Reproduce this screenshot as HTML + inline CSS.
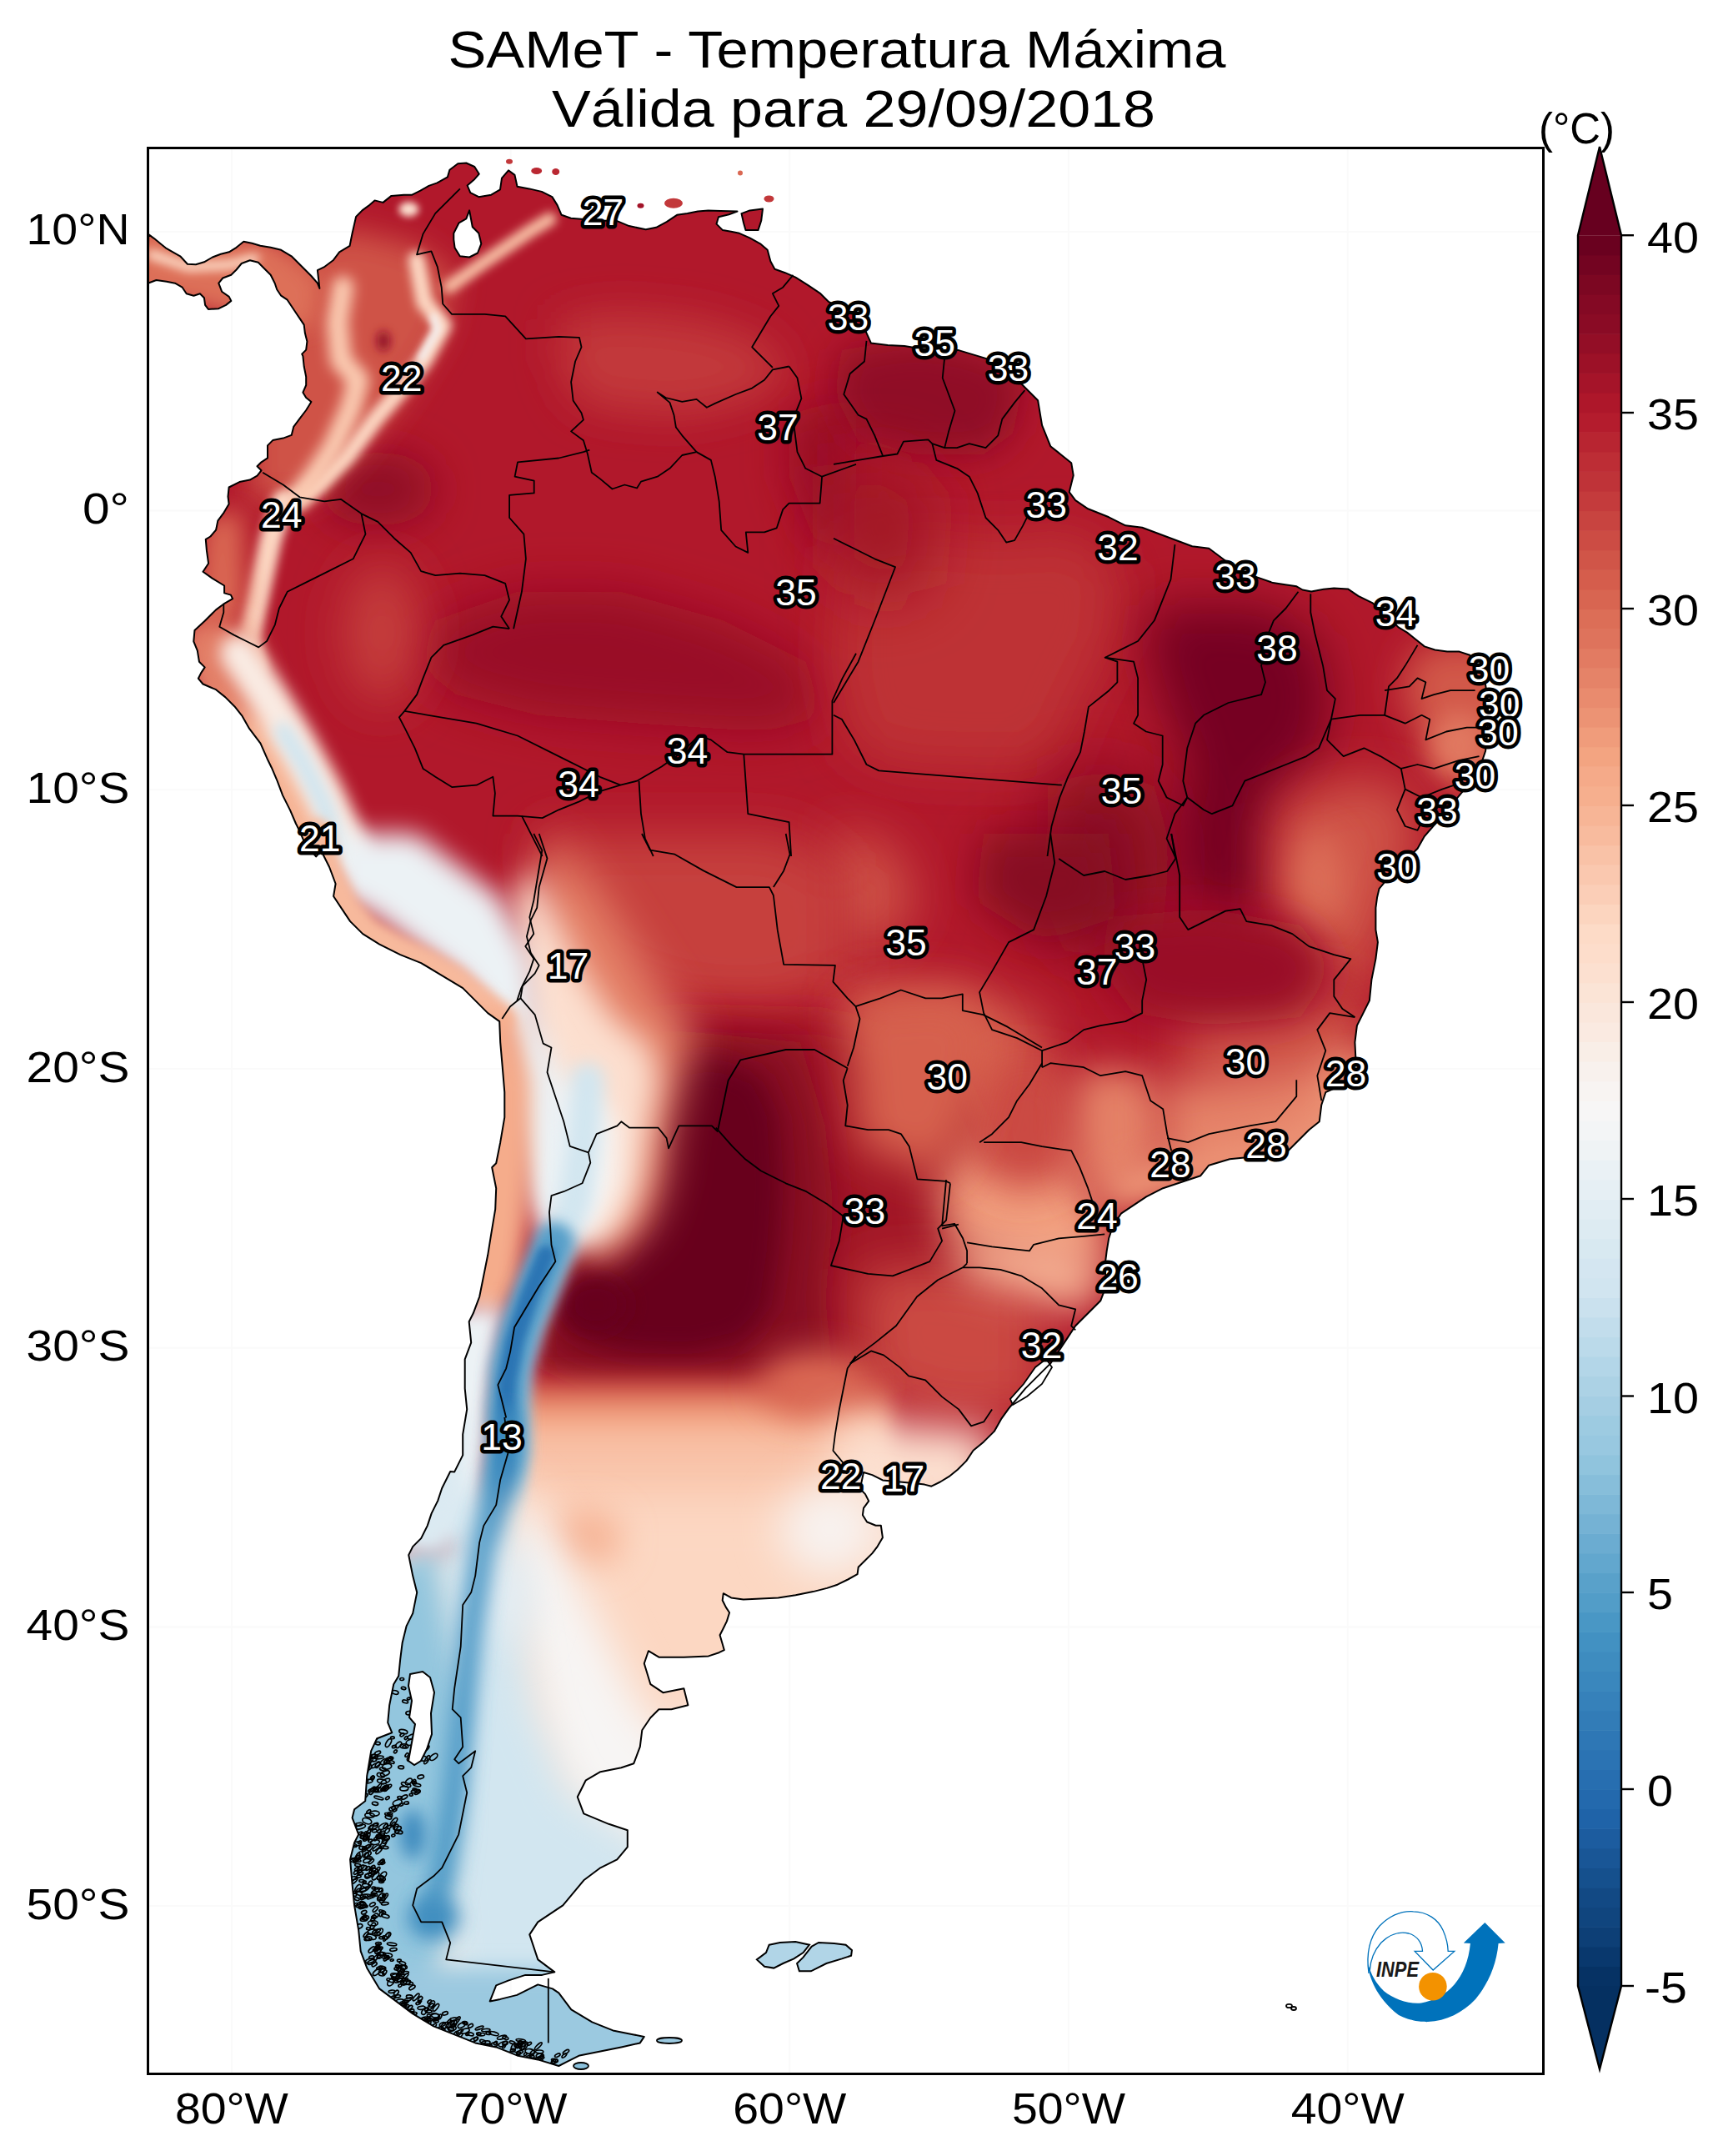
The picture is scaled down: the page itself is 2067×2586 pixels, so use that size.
<!DOCTYPE html><html><head><meta charset="utf-8"><style>html,body{margin:0;padding:0;background:#fff}svg{display:block}text{font-family:"Liberation Sans",sans-serif}</style></head><body>
<svg xmlns="http://www.w3.org/2000/svg" width="2067" height="2586" viewBox="0 0 2067 2586">
<rect width="2067" height="2586" fill="#fff"/>
<text x="1004" y="81" font-size="62.5" text-anchor="middle" textLength="933" lengthAdjust="spacingAndGlyphs">SAMeT - Temperatura Máxima</text>
<text x="1024" y="152" font-size="62.5" text-anchor="middle" textLength="724" lengthAdjust="spacingAndGlyphs">Válida para 29/09/2018</text>
<defs>
<clipPath id="land"><path d="M178.2,281.1 L185,286.1 L192.5,292.3 L198.7,297.3 L207.4,302.3 L216.2,307.3 L224.9,316.8 L234.9,317.3 L244.9,314.3 L254.9,308.5 L264.8,304.8 L274.8,302.3 L283.6,296.8 L292.3,289.8 L302.3,291.8 L312.3,294.8 L324.7,296.8 L337.2,299.8 L349.7,307.3 L359.7,317.3 L367.2,324.7 L373.4,331 L380.9,339.7 L383.4,346 L382.1,334.7 L380.9,324.2 L389.6,319.8 L399.6,312.3 L407.1,302.3 L419.6,294.8 L422.6,279.8 L427.1,259.9 L434.5,252.4 L442,246.9 L449.5,240.4 L459.5,242.9 L469.5,234.9 L484.5,233.7 L494.4,233.7 L504.4,228.7 L514.4,222.9 L524.4,219.4 L536.9,212.4 L539.4,203.7 L549.3,196.2 L559.3,195.5 L569.3,200 L574.8,208.7 L569.3,214.9 L560.6,222.4 L564.3,231.2 L574.3,236.2 L589.3,233.7 L600,227.4 L602,213.7 L610,204.4 L617.5,209.9 L620.5,223.7 L634.9,226.4 L649.9,229.9 L662.4,236.1 L668.6,246.1 L673.6,257.8 L684.9,261.8 L697.3,262.8 L717.3,264.8 L739.8,264.8 L754.7,271.1 L774.7,275.3 L787.2,272.8 L799.7,266.1 L812.1,257.8 L824.6,256.1 L837.1,253.6 L849.6,252.4 L864.5,253.1 L884.5,253.6 L874.5,257.3 L862,260.3 L859.5,268.6 L867,276.1 L877,277.8 L887,279.8 L899.5,285.3 L912,292.3 L920.7,299.8 L924.4,313.5 L929.4,322.7 L941.9,327.2 L954.4,332.7 L969.4,342.2 L984.3,352.2 L994.3,362.2 L1011.8,369.7 L1030,378.4 L1045,411.6 L1065,414.1 L1085,415.1 L1100.1,417.6 L1125.1,420.1 L1150.1,420.1 L1175.1,427.6 L1200.1,435.2 L1220.1,455.2 L1230.1,465.2 L1245.1,480.2 L1250.1,510.2 L1260.2,535.2 L1272.7,545.2 L1285.2,555.2 L1287.7,570.2 L1282.7,590.2 L1290.2,600.2 L1305.2,610.3 L1330.2,620.3 L1350.2,630.3 L1370.2,632.8 L1390.2,640.3 L1410.2,647.8 L1430.2,655.3 L1450.3,657.8 L1460.3,665.3 L1480.3,680.3 L1500,689.7 L1512.5,693.9 L1527.2,699.1 L1541.8,701.2 L1555.4,703.3 L1562.7,707.5 L1573.1,709.5 L1587.8,706.8 L1600.3,705.4 L1617,706.4 L1629.5,714.8 L1646.3,723.1 L1663,737.8 L1677.6,752.4 L1688,758.6 L1698.5,767 L1708.9,775.4 L1721.5,779.5 L1736.1,781.6 L1750.7,781.6 L1763.3,785.8 L1775.8,804.6 L1782.1,821.3 L1784.6,838 L1785.2,858.9 L1784.2,879.8 L1782.1,900.7 L1777.9,913.3 L1769.5,930 L1757,946.7 L1746.5,959.2 L1734,973.9 L1721.5,988.5 L1708.9,1003.1 L1700.6,1017.7 L1694.3,1024 L1679.7,1038.6 L1665.1,1053.3 L1654.6,1065.8 L1652.1,1076.2 L1650.4,1088.8 L1650.4,1115.1 L1652.9,1130.1 L1650.4,1150.1 L1645.4,1175.1 L1642.9,1200.1 L1635.4,1215.1 L1627.9,1230.1 L1625.4,1250.1 L1626.4,1270.2 L1612.9,1300.2 L1590.3,1310.2 L1585.3,1325.2 L1582.8,1345.2 L1570.3,1355.2 L1555.3,1370.2 L1545.3,1380.2 L1525.3,1385.2 L1500.3,1387.7 L1475.3,1390.2 L1450.3,1397.7 L1440.3,1410.2 L1425.2,1415.2 L1410.2,1420.2 L1395.2,1425.2 L1375.2,1435.3 L1360.2,1445.3 L1345.2,1455.3 L1335.2,1470.3 L1330.2,1485.3 L1327.7,1500.3 L1325.2,1520.3 L1327.7,1540.3 L1320.2,1560.3 L1305.2,1575.3 L1290.2,1590.3 L1280.2,1605.4 L1270.2,1620.4 L1260.2,1635.4 L1245.1,1650.4 L1230.1,1665.4 L1210,1689.7 L1201,1702.2 L1192.7,1716.9 L1180.1,1729.4 L1167.6,1739.8 L1159.2,1752.4 L1148.8,1762.8 L1138.3,1771.2 L1127.9,1777.5 L1117.4,1782.7 L1109.1,1780.6 L1100.7,1779.5 L1079.8,1777.5 L1058.9,1775.4 L1046.4,1769.1 L1036,1766 L1031.8,1785.8 L1038,1792.1 L1042.2,1800.4 L1036,1808.8 L1034.9,1817.2 L1040.1,1825.5 L1050.6,1829.7 L1056.8,1829.7 L1058.9,1844.3 L1052.7,1854.8 L1046.4,1863.1 L1038,1871.5 L1029.7,1879.8 L1028.6,1888.2 L1017.2,1894.5 L1004.6,1900.7 L992.1,1904.9 L975.4,1909.1 L954.5,1913.3 L933.6,1916.4 L912.7,1917.4 L891.8,1918.5 L877.2,1916.4 L867.8,1911.2 L866.7,1919.5 L870.9,1927.9 L875.1,1934.2 L871.9,1944.6 L867.8,1953 L863.6,1961.3 L866.7,1971.8 L868.8,1979.1 L862.5,1982.2 L850,1986.4 L820.4,1987.7 L790.4,1987.7 L777.9,1980.2 L772.8,1995.2 L780.4,2020.2 L795.4,2030.2 L820.4,2025.2 L825.4,2045.2 L805.4,2050.2 L790.4,2050.2 L780.4,2060.2 L770.3,2075.2 L767.8,2095.2 L760.3,2115.2 L745.3,2120.2 L720.3,2125.2 L702.8,2135.3 L692.8,2155.3 L700.3,2175.3 L730.3,2187.8 L752.8,2195.3 L752.8,2215.3 L740.3,2230.3 L720.3,2240.3 L700.3,2255.3 L687.8,2270.3 L675.3,2285.3 L660.3,2295.3 L645.3,2305.4 L635.3,2320.4 L640.3,2335.4 L645.3,2350.4 L665.3,2365.4 L650.3,2368.9 L630.3,2368.9 L610.3,2375.4 L595.2,2381.4 L587.7,2400.4 L600.2,2397.9 L620.3,2392.9 L645.3,2380.4 L662.8,2385.4 L670.3,2390.4 L685.3,2410.4 L710.3,2425.4 L735.3,2435.4 L760.3,2440.4 L772.8,2442.9 L767.8,2450.4 L745.3,2455.4 L720.3,2460.4 L695.3,2465.4 L680.3,2472.9 L670.3,2478 L645.3,2470.4 L620.3,2465.4 L595.2,2455.4 L570.2,2450.4 L545.2,2440.4 L520.2,2430.4 L495.2,2415.4 L475.2,2400.4 L455.2,2385.4 L440.2,2360.4 L432.7,2340.4 L430.2,2315.4 L425.1,2285.3 L422.6,2260.3 L420.1,2230.3 L425.1,2210.3 L430.2,2200.3 L422.6,2180.3 L425.1,2170.3 L438.2,2160.3 L440.2,2130.2 L445.2,2100.2 L452.2,2085.2 L470.2,2078.2 L465.2,2066.2 L467.2,2045.2 L472.2,2020.2 L478.2,2010.2 L480.2,1990.2 L482.7,1970.2 L487.7,1950.1 L495.2,1935.1 L500.2,1910.1 L495.2,1890.1 L490.2,1865.1 L495.2,1855.1 L505.2,1845.1 L512.7,1830.1 L517.7,1815.1 L525.2,1800.1 L530.2,1785 L540.2,1765 L545.2,1765.4 L555.2,1745.4 L555.2,1720.4 L560.2,1690.4 L557.7,1665.4 L557.7,1630.4 L565.2,1610.4 L562.7,1585.3 L567.7,1575.3 L575.2,1555.3 L580.2,1530.3 L585.2,1505.3 L589.2,1480.3 L594.2,1450.3 L595.2,1425.2 L590.2,1400.2 L595.2,1395.2 L600.2,1370.2 L605.3,1340.2 L605.3,1310.2 L602.8,1280.2 L600.2,1250.1 L599.2,1225.1 L585.2,1215.1 L570.2,1200.1 L555.2,1185.1 L530.2,1170.1 L505.2,1155.1 L480.2,1145.1 L455.2,1132.6 L435.2,1120.1 L420.1,1105.1 L410.1,1090.1 L400.1,1075 L402.6,1060 L395.1,1040 L385.1,1020 L379.3,1027.5 L365.9,1011.9 L359.2,996.4 L354.8,987.5 L348.1,971.9 L339.2,954.1 L332.5,936.3 L325.8,920.7 L321.4,911.8 L312.5,891.7 L299.1,873.9 L290.2,858.3 L281.3,847.2 L270.2,836.1 L259.1,827.2 L243.5,820.5 L237.9,813.8 L241.2,807.1 L245.7,800.4 L239,793.8 L236.8,780.4 L232.3,769.3 L233.5,755.9 L245.7,744.8 L259.1,731.4 L268,724.7 L279.1,718.1 L276.9,713.6 L269.1,711.4 L269.1,702.5 L254.6,693.6 L243.5,685.8 L250.1,675.8 L247.9,660.2 L246.8,646.8 L252.4,643.5 L259.1,635.7 L261.3,624.6 L268,615.7 L274.6,604.5 L273.5,595.6 L274.6,584.5 L287.3,578.1 L299.8,575.6 L308.5,570.6 L313.5,564.3 L308.5,559.3 L313.5,554.3 L321,549.4 L321,534.4 L327.2,528.1 L339.7,525.6 L349.7,521.9 L352.2,511.9 L359.7,501.9 L367.2,492 L373.4,482 L367.2,477 L363.4,470.7 L367.2,462 L367.2,452 L364.7,439.5 L363.4,427.1 L362.2,424.6 L367.2,419.6 L368.4,409.6 L365.9,399.6 L364.7,389.6 L359.7,382.1 L354.7,374.7 L349.7,367.2 L344.7,359.7 L337.2,354.7 L332.2,347.2 L329.7,339.7 L324.7,329.7 L317.2,322.3 L309.8,314.8 L299.8,312.3 L289.8,316 L283.6,323.5 L277.3,329.7 L267.3,333.5 L262.3,339.7 L266.1,349.7 L274.8,355.9 L277.3,360.9 L271.1,365.9 L262.3,370.2 L249.9,370.9 L246.1,365.9 L244.9,357.2 L239.9,352.2 L232.4,354.7 L223.7,352.2 L218.7,344.7 L209.9,339.7 L199.9,337.7 L187.5,336 L177.5,339.7 Z M889.5,256.1 L899.5,252.4 L915,250.4 L913.2,264.8 L909.5,276.1 L894.5,276.1 L892,267.3 Z" clip-rule="evenodd"/></clipPath>
<filter id="g4" filterUnits="userSpaceOnUse" x="0" y="0" width="2067" height="2586"><feGaussianBlur stdDeviation="4"/></filter>
<filter id="g5" filterUnits="userSpaceOnUse" x="0" y="0" width="2067" height="2586"><feGaussianBlur stdDeviation="5"/></filter>
<filter id="g6" filterUnits="userSpaceOnUse" x="0" y="0" width="2067" height="2586"><feGaussianBlur stdDeviation="6"/></filter>
<filter id="g8" filterUnits="userSpaceOnUse" x="0" y="0" width="2067" height="2586"><feGaussianBlur stdDeviation="8"/></filter>
<filter id="g10" filterUnits="userSpaceOnUse" x="0" y="0" width="2067" height="2586"><feGaussianBlur stdDeviation="10"/></filter>
<filter id="g12" filterUnits="userSpaceOnUse" x="0" y="0" width="2067" height="2586"><feGaussianBlur stdDeviation="12"/></filter>
<filter id="g15" filterUnits="userSpaceOnUse" x="0" y="0" width="2067" height="2586"><feGaussianBlur stdDeviation="15"/></filter>
<filter id="g16" filterUnits="userSpaceOnUse" x="0" y="0" width="2067" height="2586"><feGaussianBlur stdDeviation="16"/></filter>
<filter id="g18" filterUnits="userSpaceOnUse" x="0" y="0" width="2067" height="2586"><feGaussianBlur stdDeviation="18"/></filter>
<filter id="g20" filterUnits="userSpaceOnUse" x="0" y="0" width="2067" height="2586"><feGaussianBlur stdDeviation="20"/></filter>
<filter id="g22" filterUnits="userSpaceOnUse" x="0" y="0" width="2067" height="2586"><feGaussianBlur stdDeviation="22"/></filter>
<filter id="g25" filterUnits="userSpaceOnUse" x="0" y="0" width="2067" height="2586"><feGaussianBlur stdDeviation="25"/></filter>
<filter id="g30" filterUnits="userSpaceOnUse" x="0" y="0" width="2067" height="2586"><feGaussianBlur stdDeviation="30"/></filter>
<filter id="g38" filterUnits="userSpaceOnUse" x="0" y="0" width="2067" height="2586"><feGaussianBlur stdDeviation="38"/></filter>
<filter id="g40" filterUnits="userSpaceOnUse" x="0" y="0" width="2067" height="2586"><feGaussianBlur stdDeviation="40"/></filter>
</defs>
<line x1="277.9" y1="177.5" x2="277.9" y2="2487" stroke="#fafafa" stroke-width="2"/>
<line x1="612.6" y1="177.5" x2="612.6" y2="2487" stroke="#fafafa" stroke-width="2"/>
<line x1="947.3" y1="177.5" x2="947.3" y2="2487" stroke="#fafafa" stroke-width="2"/>
<line x1="1282.0" y1="177.5" x2="1282.0" y2="2487" stroke="#fafafa" stroke-width="2"/>
<line x1="1616.7" y1="177.5" x2="1616.7" y2="2487" stroke="#fafafa" stroke-width="2"/>
<line x1="177.5" y1="277.9" x2="1851" y2="277.9" stroke="#fafafa" stroke-width="2"/>
<line x1="177.5" y1="612.6" x2="1851" y2="612.6" stroke="#fafafa" stroke-width="2"/>
<line x1="177.5" y1="947.3" x2="1851" y2="947.3" stroke="#fafafa" stroke-width="2"/>
<line x1="177.5" y1="1282.0" x2="1851" y2="1282.0" stroke="#fafafa" stroke-width="2"/>
<line x1="177.5" y1="1616.7" x2="1851" y2="1616.7" stroke="#fafafa" stroke-width="2"/>
<line x1="177.5" y1="1951.4" x2="1851" y2="1951.4" stroke="#fafafa" stroke-width="2"/>
<line x1="177.5" y1="2286.1" x2="1851" y2="2286.1" stroke="#fafafa" stroke-width="2"/>
<g clip-path="url(#land)">
<rect x="177.5" y="177.5" width="1673.5" height="2309.5" fill="#b1182b"/>
<path d="M522.3,744.3 L621,709.8 L744.3,709.8 L867.7,744.3 L966.3,793.7 L991,857.8 L917,877.5 L769,867.7 L645.7,857.8 L547,833.1 L497.7,793.7 Z" fill="#991027" filter="url(#g30)"/>
<ellipse cx="453.3" cy="586.5" rx="69.1" ry="44.4" fill="#900d26" transform="rotate(0 453.3 586.5)" filter="url(#g25)"/>
<path d="M946.6,497.7 L1027,473 L1027,670.3 L976.2,645.7 L946.6,571.7 Z" fill="#991027" filter="url(#g25)"/>
<path d="M670.3,384.2 L744.3,374.3 L843,384.2 L917,408.9 L946.6,453.3 L892.3,482.9 L818.3,497.7 L744.3,492.7 L695,482.9 L670.3,433.5 Z" fill="#c2383a" filter="url(#g25)"/>
<path d="M330,300 L420,275 L500,295 L545,330 L530,400 L480,480 L430,540 L370,600 L300,600 L300,400 Z" fill="#cf5246" filter="url(#g18)"/>
<path d="M499.7,311.4 L509,362.5 L532,390.4 L509,432.2 L481,467 L451,501.8 L416,548.2 L381,583 L358,600" fill="none" stroke="#fcd7c2" stroke-width="20.0" stroke-linecap="round" stroke-linejoin="round" filter="url(#g6)"/>
<path d="M411.4,344 L404.5,385.7 L409,432.2 L430,455.4 L420.7,490.2 L399.8,536.6 L376.6,571.4 L353.4,600" fill="none" stroke="#facab1" stroke-width="26.0" stroke-linecap="round" stroke-linejoin="round" filter="url(#g8)"/>
<path d="M539,344 L578.6,316 L636.6,276.6 L659.8,262.7" fill="none" stroke="#f8bfa4" stroke-width="16.0" stroke-linecap="round" stroke-linejoin="round" filter="url(#g6)"/>
<path d="M520,380 L525,395 L505,430" fill="none" stroke="#f5f6f7" stroke-width="8.0" stroke-linecap="round" stroke-linejoin="round" filter="url(#g4)"/>
<ellipse cx="490.4" cy="251" rx="12.0" ry="9.0" fill="#fcdfcf" transform="rotate(0 490.4 251)" filter="url(#g4)"/>
<ellipse cx="460" cy="409" rx="8.0" ry="12.0" fill="#900d26" transform="rotate(0 460 409)" filter="url(#g6)"/>
<ellipse cx="458.2" cy="759.1" rx="44.4" ry="83.9" fill="#c6413e" transform="rotate(0 458.2 759.1)" filter="url(#g30)"/>
<path d="M152.3,265.8 L251,275.7 L325,285.5 L384.2,339.8 L374.3,394.1 L300.3,384.2 L226.3,364.5 L152.3,354.6 Z" fill="#dd7059" filter="url(#g12)"/>
<path d="M181.9,305.3 L226.3,320.1 L275.7,317.6 L305.3,310.2" fill="none" stroke="#fcd7c2" stroke-width="12.3" stroke-linecap="round" stroke-linejoin="round" filter="url(#g6)"/>
<path d="M339.8,601.3 L325,645.7 L315.1,690.1 L305.3,734.5 L297.9,769 L305.3,798.6" fill="none" stroke="#fcd7c2" stroke-width="27.1" stroke-linecap="round" stroke-linejoin="round" filter="url(#g6)"/>
<path d="M246.1,621 L290.5,611.1 L295.4,719.7 L275.7,759.1 L231.3,759.1 Z" fill="#da6853" filter="url(#g15)"/>
<path d="M226.3,759.1 L290.5,769 L325,818.3 L364.5,877.5 L403.9,946.6 L433.5,1027 L339.8,1027 L300.3,917 L251,843 Z" fill="#f6b394" filter="url(#g12)"/>
<path d="M221.4,744.3 L295.4,754.2 L315.1,798.6 L325,857.8 L275.7,857.8 L236.2,818.3 Z" fill="#e17860" filter="url(#g15)"/>
<path d="M285.5,783.8 L325,843 L354.6,892.3 L384.2,946.6 L408.9,995.9 L423.7,1027" fill="none" stroke="#f9ebe3" stroke-width="44.4" stroke-linecap="round" stroke-linejoin="round" filter="url(#g10)"/>
<path d="M339.8,877.5 L364.5,917 L389.1,966.3 L408.9,1027" fill="none" stroke="#d2e6f0" stroke-width="22.2" stroke-linecap="round" stroke-linejoin="round" filter="url(#g8)"/>
<path d="M1009.9,657.2 L1098.7,637.5 L1197.3,647.3 L1296,637.5 L1345.3,686.8 L1335.5,770.7 L1296,844.7 L1266.4,918.7 L1197.3,923.6 L1074,918.7 L1019.7,894 L1000,795.3 Z" fill="#be3036" filter="url(#g30)"/>
<path d="M1384.8,726.3 L1444,726.3 L1518,726.3 L1582.1,765.7 L1596.9,844.7 L1582.1,903.9 L1532.8,943.3 L1513.1,1017.3 L1522.9,1091.3 L1468.7,1106.1 L1409.5,1066.7 L1404.5,992.7 L1424.3,918.7 L1394.7,844.7 L1374.9,770.7 Z" fill="#760521" filter="url(#g30)"/>
<path d="M1256.5,943.3 L1320.7,918.7 L1384.8,943.3 L1404.5,1017.3 L1394.7,1116 L1345.3,1150.5 L1276.3,1140.7 L1246.7,1066.7 L1256.5,992.7 Z" fill="#870a24" filter="url(#g40)"/>
<path d="M1700.5,775.6 L1764.7,770.7 L1850,775.6 L1850,968 L1789.3,968 L1730.1,923.6 L1700.5,874.3 L1680.8,824.9 Z" fill="#d25849" filter="url(#g22)"/>
<ellipse cx="1749.9" cy="894.0" rx="34.5" ry="39.5" fill="#e17860" transform="rotate(0 1749.9 894.0)" filter="url(#g15)"/>
<path d="M1532.8,968 L1616.7,933.5 L1690.7,943.3 L1700.5,1017.3 L1661.1,1116 L1641.3,1190 L1567.3,1165.3 L1532.8,1091.3 Z" fill="#cf5246" filter="url(#g30)"/>
<ellipse cx="1582.1" cy="1056.8" rx="29.6" ry="59.2" fill="#dd7059" transform="rotate(0 1582.1 1056.8)" filter="url(#g20)"/>
<path d="M1000,992.7 L1074,1017.3 L1098.7,1091.3 L1049.3,1140.7 L1000,1116 Z" fill="#cf5246" filter="url(#g30)"/>
<path d="M1419.3,1190 L1518,1190 L1616.7,1180.1 L1641.3,1300 L1419.3,1300 Z" fill="#cf5246" filter="url(#g30)"/>
<path d="M646.7,1000 L770,1000 L942.7,1000 L1016.7,1049.3 L1016.7,1172.7 L942.7,1207.2 L844,1207.2 L770,1187.5 L696,1148 L656.5,1074 Z" fill="#c6413e" filter="url(#g30)"/>
<path d="M1016.7,1187.5 L1140,1187.5 L1250,1222 L1250,1370 L1140,1419.3 L1041.3,1394.7 L1016.7,1296 Z" fill="#d6604d" filter="url(#g30)"/>
<path d="M660,1250 L800,1220 L1000,1225 L1100,1260 L1150,1300 L1200,1400 L1220,1500 L1150,1620 L1050,1665 L900,1672 L700,1672 L640,1645 L630,1580 L660,1500 L700,1400 Z" fill="#a21328" filter="url(#g25)"/>
<path d="M700,1250 L800,1235 L960,1250 L990,1350 L1000,1450 L990,1560 L1000,1650 L900,1668 L700,1668 L645,1640 L640,1580 L670,1500 L710,1400 Z" fill="#870a24" filter="url(#g22)"/>
<path d="M790,1280 L860,1268 L915,1290 L935,1340 L940,1420 L935,1500 L925,1570 L895,1610 L830,1625 L750,1622 L695,1605 L665,1575 L690,1540 L745,1515 L775,1465 L785,1400 Z" fill="#67001f" filter="url(#g16)"/>
<path d="M656.5,1000 L720.7,1074 L794.7,1187.5 L834.1,1231.9 L819.3,1296 L804.5,1345.3 L794.7,1419.3 L774.9,1473.6 L745.3,1493.3 L720.7,1518 L696,1493.3 L676.3,1444 L646.7,1296 L636.8,1148 Z" fill="#e48066" filter="url(#g25)"/>
<path d="M636.8,1039.5 L666.4,1098.7 L696,1162.8 L735.5,1222 L779.9,1256.5 L789.7,1296 L779.9,1345.3 L770,1419.3 L750.3,1468.7 L715.7,1498.3 L676.3,1483.5 L656.5,1394.7 L636.8,1296 L626.9,1172.7 L617.1,1074 Z" fill="#fcdfcf" filter="url(#g18)"/>
<path d="M656.5,1296 L705.9,1305.9 L740.4,1345.3 L740.4,1419.3 L715.7,1473.6 L686.1,1493.3 L661.5,1444 Z" fill="#f7f5f4" filter="url(#g15)"/>
<path d="M400,1000 L498.7,1000 L597.3,1074 L636.8,1148 L646.7,1222 L676.3,1296 L696,1370 L705.9,1419.3 L676.3,1468.7 L656.5,1493.3 L631.9,1444 L612.1,1345.3 L607.2,1246.7 L548,1172.7 L449.3,1098.7 L400,1074 Z" fill="#ecf2f5" filter="url(#g15)"/>
<path d="M380,1000 L395,1050 L415,1090 L440,1118 L475,1138 L510,1155 L545,1175 L575,1200 L600,1222" fill="none" stroke="#f7b99c" stroke-width="36.0" stroke-linecap="round" stroke-linejoin="round" filter="url(#g6)"/>
<path d="M548,1207.2 L617.1,1217.1 L636.8,1296 L636.8,1394.7 L631.9,1468.7 L622,1542.7 L597.3,1582.1 L548,1567.3 L548,1345.3 Z" fill="#f5ac8b" filter="url(#g12)"/>
<path d="M474,1567.3 L607.2,1567.3 L597.3,1641.3 L587.5,1740 L577.6,1850 L474,1850 Z" fill="#ecf2f5" filter="url(#g12)"/>
<ellipse cx="715.0" cy="1565.0" rx="38.0" ry="32.0" fill="#67001f" transform="rotate(0 715.0 1565.0)" filter="url(#g12)"/>
<defs><linearGradient id="vg44714" gradientUnits="userSpaceOnUse" x1="0" y1="1640" x2="0" y2="1990"><stop offset="0.0000" stop-color="#c2383a" stop-opacity="0"/><stop offset="0.0714" stop-color="#d25849" stop-opacity="1"/><stop offset="0.1286" stop-color="#e8896c" stop-opacity="1"/><stop offset="0.1857" stop-color="#f5ac8b" stop-opacity="1"/><stop offset="0.2571" stop-color="#f8bfa4" stop-opacity="1"/><stop offset="0.4571" stop-color="#facab1" stop-opacity="1"/><stop offset="0.6571" stop-color="#fbd0b9" stop-opacity="1"/><stop offset="0.9143" stop-color="#fcd7c2" stop-opacity="1"/><stop offset="1.0000" stop-color="#fcd7c2" stop-opacity="0"/></linearGradient></defs>
<rect x="600" y="1640" width="470" height="350" fill="url(#vg44714)" filter="url(#g12)"/>
<ellipse cx="1050.0" cy="1860.0" rx="60.0" ry="50.0" fill="#f9ebe3" transform="rotate(0 1050.0 1860.0)" filter="url(#g20)"/>
<path d="M705,1295 L700,1370 L690,1440 L670,1490 L650,1540 L630,1590 L615,1640 L612,1690 L612,1740 L605,1790 L595,1850" fill="none" stroke="#d2e6f0" stroke-width="40.0" stroke-linecap="round" stroke-linejoin="round" filter="url(#g10)"/>
<path d="M665,1490 L645,1540 L625,1590 L612,1640 L608,1690 L610,1740 L602,1790 L590,1850" fill="none" stroke="#569fc9" stroke-width="48.0" stroke-linecap="round" stroke-linejoin="round" filter="url(#g8)"/>
<path d="M655,1505 L635,1555 L617,1610 L608,1660 L607,1710 L605,1760 L596,1810 L585,1850" fill="none" stroke="#2c75b4" stroke-width="22.0" stroke-linecap="round" stroke-linejoin="round" filter="url(#g5)"/>
<path d="M1031.5,1522.9 L1140,1518 L1250,1542.7 L1250,1690.7 L1140,1700.5 L1041.3,1666 Z" fill="#cb4942" filter="url(#g30)"/>
<ellipse cx="980.0" cy="1660.0" rx="70.0" ry="40.0" fill="#da6853" transform="rotate(0 980.0 1660.0)" filter="url(#g20)"/>
<path d="M1001.9,1700.5 L1115.3,1710.4 L1189.3,1715.3 L1189.3,1814 L1041.3,1838.7 L992,1814 Z" fill="#fcdfcf" filter="url(#g25)"/>
<path d="M1140.1,1370.2 L1280.2,1380.2 L1310.2,1430.2 L1330.2,1470.3 L1320.2,1525.3 L1250.1,1520.3 L1150.1,1495.3 L1125.1,1450.3 Z" fill="#f19e7d" filter="url(#g25)"/>
<path d="M1150.1,1490.3 L1280.2,1490.3 L1330.2,1525.3 L1300.2,1575.3 L1225.1,1550.3 L1155.1,1530.3 Z" fill="#f6b394" filter="url(#g25)"/>
<path d="M1190.1,1270.2 L1280.2,1275.2 L1290.2,1400.2 L1230.1,1430.2 L1165.1,1400.2 L1175.1,1325.2 Z" fill="#cb4942" filter="url(#g25)"/>
<path d="M1300.2,1280.2 L1375.2,1285.2 L1400.2,1350.2 L1380.2,1410.2 L1320.2,1440.3 L1290.2,1400.2 L1285.2,1325.2 Z" fill="#e48066" filter="url(#g22)"/>
<path d="M1390.2,1300.2 L1550.3,1280.2 L1625.4,1250.1 L1650.4,1300.2 L1575.3,1375.2 L1450.3,1410.2 L1390.2,1390.2 Z" fill="#e48066" filter="url(#g25)"/>
<path d="M1015,1200.1 L1150.1,1190.1 L1190.1,1225.1 L1165.1,1350.2 L1125.1,1410.2 L1030,1375.2 Z" fill="#d6604d" filter="url(#g25)"/>
<path d="M150,1860 L1900,1860 L1900,2600 L150,2600 Z" fill="#f9ebe3" filter="url(#g15)"/>
<path d="M595.2,1800.1 L1070.5,1800.1 L1070.5,2050.2 L820.4,2050.2 L795.4,2150.3 L670.3,2150.3 L610.3,1950.1 Z" fill="#fcd7c2" filter="url(#g25)"/>
<ellipse cx="700.3" cy="1845.1" rx="45.0" ry="35.0" fill="#f6b394" transform="rotate(0 700.3 1845.1)" filter="url(#g20)"/>
<ellipse cx="995.5" cy="1835.1" rx="60.0" ry="55.0" fill="#f8f2ef" transform="rotate(0 995.5 1835.1)" filter="url(#g25)"/>
<path d="M620.3,1775 L670.3,1850.1 L720.3,1950.1 L770.3,2050.2 L820.4,2100.2 L820.4,2200.3 L720.3,2200.3 L660.3,2125.2 L635.3,2000.2 L610.3,1875.1 Z" fill="#f7f5f4" filter="url(#g25)"/>
<path d="M530.2,1775 L595.2,1800.1 L620.3,1925.1 L640.3,2050.2 L680.3,2150.3 L795.4,2225.3 L795.4,2400.4 L545.2,2400.4 L520.2,2150.3 Z" fill="#d2e6f0" filter="url(#g22)"/>
<ellipse cx="610.3" cy="1910.1" rx="30.0" ry="60.0" fill="#e4eef4" transform="rotate(0 610.3 1910.1)" filter="url(#g25)"/>
<path d="M370.1,1950.1 L520.2,1850.1 L555.2,2050.2 L550.2,2200.3 L530.2,2350.4 L510.2,2425.4 L370.1,2425.4 Z" fill="#93c6de" filter="url(#g15)"/>
<path d="M420.1,1700 L560.2,1700 L550.2,1800.1 L530.2,1860.1 L420.1,1860.1 Z" fill="#dbeaf2" filter="url(#g10)"/>
<path d="M610.3,1700 L600.2,1775 L580.2,1850.1 L565.2,1950.1 L555.2,2050.2 L545.2,2150.3 L530.2,2250.3 L515.2,2300.3" fill="none" stroke="#4393c3" stroke-width="25.0" stroke-linecap="round" stroke-linejoin="round" filter="url(#g12)"/>
<path d="M395.1,2360.4 L670.3,2360.4 L820.4,2425.4 L820.4,2525.5 L395.1,2525.5 Z" fill="#9bc9e0" filter="url(#g12)"/>
<ellipse cx="495.2" cy="2200.3" rx="15.0" ry="30.0" fill="#3c8abe" transform="rotate(0 495.2 2200.3)" filter="url(#g10)"/>
<ellipse cx="520.2" cy="2300.3" rx="30.0" ry="25.0" fill="#3f8ec0" transform="rotate(0 520.2 2300.3)" filter="url(#g12)"/>
<path d="M1010,420 L1100,405 L1180,420 L1230,450 L1215,520 L1180,545 L1100,545 L1030,530 L1000,470 Z" fill="#900d26" filter="url(#g22)"/>
<path d="M1000,560 L1080,550 L1120,600 L1110,700 L1040,720 L1000,680 Z" fill="#a21328" filter="url(#g38)"/>
<path d="M1330,1100 L1450,1090 L1560,1110 L1600,1160 L1560,1220 L1450,1230 L1360,1215 L1320,1160 Z" fill="#991027" filter="url(#g25)"/>
<path d="M1180,1000 L1330,1000 L1340,1100 L1250,1130 L1170,1080 Z" fill="#870a24" filter="url(#g25)"/>
<path d="M1350,1425 L1400,1410 L1450,1395 L1500,1385 L1560,1370 L1600,1335 L1620,1300" fill="none" stroke="#ee9677" stroke-width="50.0" stroke-linecap="round" stroke-linejoin="round" filter="url(#g18)"/>
<g fill="none" stroke="#000" stroke-width="1.7">
<ellipse cx="439.1" cy="2225.2" rx="3.7" ry="2.1" transform="rotate(-50 439.1 2225.2)"/>
<ellipse cx="478.8" cy="2374.4" rx="5.8" ry="2.6" transform="rotate(-28 478.8 2374.4)"/>
<ellipse cx="458.4" cy="2232.7" rx="3.2" ry="1.9" transform="rotate(-46 458.4 2232.7)"/>
<ellipse cx="437.3" cy="2216.6" rx="2.8" ry="1.6" transform="rotate(-26 437.3 2216.6)"/>
<ellipse cx="484.2" cy="2359.7" rx="4.1" ry="2.3" transform="rotate(-2 484.2 2359.7)"/>
<ellipse cx="451.6" cy="2316.2" rx="5.0" ry="1.7" transform="rotate(-21 451.6 2316.2)"/>
<ellipse cx="638.6" cy="2462.6" rx="3.9" ry="2.1" transform="rotate(-55 638.6 2462.6)"/>
<ellipse cx="451.3" cy="2216.4" rx="5.1" ry="1.7" transform="rotate(-40 451.3 2216.4)"/>
<ellipse cx="441.9" cy="2324.9" rx="4.2" ry="2.4" transform="rotate(6 441.9 2324.9)"/>
<ellipse cx="650.0" cy="2466.2" rx="2.6" ry="1.5" transform="rotate(-41 650.0 2466.2)"/>
<ellipse cx="437.1" cy="2218.7" rx="2.8" ry="1.5" transform="rotate(-33 437.1 2218.7)"/>
<ellipse cx="434.6" cy="2200.1" rx="2.6" ry="1.5" transform="rotate(-31 434.6 2200.1)"/>
<ellipse cx="443.2" cy="2228.4" rx="3.4" ry="1.6" transform="rotate(6 443.2 2228.4)"/>
<ellipse cx="462.8" cy="2206.4" rx="5.8" ry="2.5" transform="rotate(-48 462.8 2206.4)"/>
<ellipse cx="428.2" cy="2277.7" rx="3.0" ry="1.7" transform="rotate(17 428.2 2277.7)"/>
<ellipse cx="676.9" cy="2465.5" rx="3.5" ry="1.6" transform="rotate(-42 676.9 2465.5)"/>
<ellipse cx="582.6" cy="2450.3" rx="5.4" ry="2.3" transform="rotate(-8 582.6 2450.3)"/>
<ellipse cx="592.1" cy="2452.9" rx="5.1" ry="2.7" transform="rotate(-22 592.1 2452.9)"/>
<ellipse cx="507.1" cy="2422.6" rx="5.9" ry="2.3" transform="rotate(-28 507.1 2422.6)"/>
<ellipse cx="492.7" cy="2414.7" rx="4.0" ry="2.0" transform="rotate(1 492.7 2414.7)"/>
<ellipse cx="602.1" cy="2443.7" rx="5.8" ry="2.0" transform="rotate(-15 602.1 2443.7)"/>
<ellipse cx="456.5" cy="2233.8" rx="3.8" ry="1.6" transform="rotate(-41 456.5 2233.8)"/>
<ellipse cx="624.0" cy="2449.4" rx="2.6" ry="1.6" transform="rotate(-7 624.0 2449.4)"/>
<ellipse cx="503.5" cy="2400.8" rx="2.1" ry="1.4" transform="rotate(-25 503.5 2400.8)"/>
<ellipse cx="448.1" cy="2273.8" rx="2.2" ry="1.3" transform="rotate(-38 448.1 2273.8)"/>
<ellipse cx="454.6" cy="2317.4" rx="5.6" ry="3.0" transform="rotate(-39 454.6 2317.4)"/>
<ellipse cx="444.2" cy="2216.0" rx="4.8" ry="2.1" transform="rotate(-54 444.2 2216.0)"/>
<ellipse cx="454.5" cy="2346.5" rx="3.0" ry="1.5" transform="rotate(-47 454.5 2346.5)"/>
<ellipse cx="434.0" cy="2256.1" rx="3.2" ry="1.6" transform="rotate(1 434.0 2256.1)"/>
<ellipse cx="425.7" cy="2269.6" rx="2.1" ry="1.3" transform="rotate(-16 425.7 2269.6)"/>
<ellipse cx="470.1" cy="2332.0" rx="5.7" ry="1.7" transform="rotate(6 470.1 2332.0)"/>
<ellipse cx="454.6" cy="2219.7" rx="5.0" ry="1.9" transform="rotate(-47 454.6 2219.7)"/>
<ellipse cx="461.8" cy="2323.9" rx="3.1" ry="1.8" transform="rotate(18 461.8 2323.9)"/>
<ellipse cx="426.8" cy="2284.6" rx="2.9" ry="1.7" transform="rotate(-18 426.8 2284.6)"/>
<ellipse cx="606.4" cy="2444.4" rx="3.6" ry="1.7" transform="rotate(19 606.4 2444.4)"/>
<ellipse cx="429.1" cy="2237.0" rx="3.4" ry="1.6" transform="rotate(7 429.1 2237.0)"/>
<ellipse cx="440.3" cy="2273.8" rx="4.9" ry="1.8" transform="rotate(-1 440.3 2273.8)"/>
<ellipse cx="441.1" cy="2241.0" rx="3.0" ry="1.7" transform="rotate(-36 441.1 2241.0)"/>
<ellipse cx="436.7" cy="2274.7" rx="4.7" ry="2.4" transform="rotate(-6 436.7 2274.7)"/>
<ellipse cx="539.9" cy="2427.9" rx="5.9" ry="2.4" transform="rotate(-39 539.9 2427.9)"/>
<ellipse cx="475.6" cy="2361.6" rx="2.6" ry="1.5" transform="rotate(16 475.6 2361.6)"/>
<ellipse cx="552.8" cy="2446.5" rx="4.8" ry="1.8" transform="rotate(12 552.8 2446.5)"/>
<ellipse cx="457.4" cy="2295.6" rx="3.3" ry="1.9" transform="rotate(-60 457.4 2295.6)"/>
<ellipse cx="605.7" cy="2450.6" rx="3.2" ry="1.6" transform="rotate(-29 605.7 2450.6)"/>
<ellipse cx="584.4" cy="2453.9" rx="5.8" ry="2.6" transform="rotate(-2 584.4 2453.9)"/>
<ellipse cx="454.0" cy="2331.3" rx="3.4" ry="1.7" transform="rotate(-1 454.0 2331.3)"/>
<ellipse cx="568.5" cy="2446.7" rx="5.0" ry="2.1" transform="rotate(-27 568.5 2446.7)"/>
<ellipse cx="453.6" cy="2339.9" rx="4.5" ry="2.5" transform="rotate(-43 453.6 2339.9)"/>
<ellipse cx="449.2" cy="2242.9" rx="4.1" ry="2.2" transform="rotate(15 449.2 2242.9)"/>
<ellipse cx="486.2" cy="2376.9" rx="4.8" ry="1.7" transform="rotate(-54 486.2 2376.9)"/>
<ellipse cx="593.8" cy="2457.2" rx="2.9" ry="1.5" transform="rotate(-33 593.8 2457.2)"/>
<ellipse cx="434.4" cy="2216.7" rx="3.6" ry="2.1" transform="rotate(11 434.4 2216.7)"/>
<ellipse cx="513.4" cy="2428.4" rx="5.3" ry="2.2" transform="rotate(-56 513.4 2428.4)"/>
<ellipse cx="431.5" cy="2209.7" rx="2.3" ry="1.4" transform="rotate(-39 431.5 2209.7)"/>
<ellipse cx="614.5" cy="2449.8" rx="3.4" ry="1.6" transform="rotate(17 614.5 2449.8)"/>
<ellipse cx="616.7" cy="2454.8" rx="4.5" ry="2.7" transform="rotate(-58 616.7 2454.8)"/>
<ellipse cx="668.8" cy="2465.2" rx="3.5" ry="1.7" transform="rotate(-26 668.8 2465.2)"/>
<ellipse cx="514.7" cy="2417.5" rx="2.3" ry="1.5" transform="rotate(0 514.7 2417.5)"/>
<ellipse cx="446.0" cy="2338.6" rx="4.8" ry="2.1" transform="rotate(-41 446.0 2338.6)"/>
<ellipse cx="517.6" cy="2405.2" rx="2.8" ry="1.5" transform="rotate(-40 517.6 2405.2)"/>
<ellipse cx="544.0" cy="2427.7" rx="5.4" ry="3.1" transform="rotate(-57 544.0 2427.7)"/>
<ellipse cx="622.4" cy="2462.9" rx="2.4" ry="1.5" transform="rotate(-10 622.4 2462.9)"/>
<ellipse cx="457.6" cy="2256.7" rx="3.0" ry="1.7" transform="rotate(-8 457.6 2256.7)"/>
<ellipse cx="447.3" cy="2309.9" rx="4.2" ry="2.2" transform="rotate(-53 447.3 2309.9)"/>
<ellipse cx="530.8" cy="2428.1" rx="3.6" ry="2.1" transform="rotate(-23 530.8 2428.1)"/>
<ellipse cx="463.1" cy="2204.1" rx="4.2" ry="2.2" transform="rotate(13 463.1 2204.1)"/>
<ellipse cx="458.8" cy="2278.8" rx="4.1" ry="2.4" transform="rotate(-51 458.8 2278.8)"/>
<ellipse cx="548.0" cy="2423.7" rx="5.9" ry="1.9" transform="rotate(-50 548.0 2423.7)"/>
<ellipse cx="665.3" cy="2471.2" rx="3.9" ry="1.5" transform="rotate(14 665.3 2471.2)"/>
<ellipse cx="485.0" cy="2401.5" rx="5.6" ry="1.6" transform="rotate(-15 485.0 2401.5)"/>
<ellipse cx="454.3" cy="2319.7" rx="2.4" ry="1.5" transform="rotate(-19 454.3 2319.7)"/>
<ellipse cx="511.9" cy="2410.2" rx="2.6" ry="1.6" transform="rotate(-38 511.9 2410.2)"/>
<ellipse cx="430.5" cy="2250.6" rx="2.6" ry="1.6" transform="rotate(-6 430.5 2250.6)"/>
<ellipse cx="523.1" cy="2421.8" rx="3.1" ry="1.8" transform="rotate(-14 523.1 2421.8)"/>
<ellipse cx="514.3" cy="2412.6" rx="3.8" ry="1.6" transform="rotate(-1 514.3 2412.6)"/>
<ellipse cx="486.7" cy="2377.7" rx="5.9" ry="2.7" transform="rotate(-7 486.7 2377.7)"/>
<ellipse cx="429.8" cy="2241.5" rx="4.5" ry="2.0" transform="rotate(-19 429.8 2241.5)"/>
<ellipse cx="479.9" cy="2381.6" rx="2.1" ry="1.5" transform="rotate(-32 479.9 2381.6)"/>
<ellipse cx="448.5" cy="2299.3" rx="2.9" ry="1.6" transform="rotate(-13 448.5 2299.3)"/>
<ellipse cx="473.9" cy="2373.5" rx="3.9" ry="1.6" transform="rotate(15 473.9 2373.5)"/>
<ellipse cx="472.7" cy="2369.0" rx="4.0" ry="2.1" transform="rotate(5 472.7 2369.0)"/>
<ellipse cx="448.3" cy="2264.6" rx="2.2" ry="1.4" transform="rotate(0 448.3 2264.6)"/>
<ellipse cx="489.7" cy="2378.5" rx="5.9" ry="1.9" transform="rotate(10 489.7 2378.5)"/>
<ellipse cx="424.9" cy="2272.4" rx="2.9" ry="1.7" transform="rotate(16 424.9 2272.4)"/>
<ellipse cx="542.6" cy="2433.4" rx="4.8" ry="2.7" transform="rotate(-25 542.6 2433.4)"/>
<ellipse cx="428.0" cy="2229.7" rx="5.7" ry="2.2" transform="rotate(-49 428.0 2229.7)"/>
<ellipse cx="428.4" cy="2211.6" rx="4.8" ry="2.4" transform="rotate(-4 428.4 2211.6)"/>
<ellipse cx="645.8" cy="2454.2" rx="5.8" ry="1.7" transform="rotate(-44 645.8 2454.2)"/>
<ellipse cx="450.0" cy="2209.6" rx="5.4" ry="2.9" transform="rotate(-9 450.0 2209.6)"/>
<ellipse cx="551.5" cy="2436.7" rx="4.5" ry="1.5" transform="rotate(-27 551.5 2436.7)"/>
<ellipse cx="534.0" cy="2414.9" rx="3.4" ry="1.9" transform="rotate(-17 534.0 2414.9)"/>
<ellipse cx="476.6" cy="2394.5" rx="4.0" ry="1.6" transform="rotate(-9 476.6 2394.5)"/>
<ellipse cx="464.9" cy="2322.0" rx="5.1" ry="2.4" transform="rotate(-50 464.9 2322.0)"/>
<ellipse cx="499.1" cy="2395.5" rx="5.4" ry="1.8" transform="rotate(-48 499.1 2395.5)"/>
<ellipse cx="447.3" cy="2306.8" rx="5.9" ry="3.1" transform="rotate(-1 447.3 2306.8)"/>
<ellipse cx="429.8" cy="2310.9" rx="5.2" ry="2.6" transform="rotate(-20 429.8 2310.9)"/>
<ellipse cx="457.7" cy="2367.8" rx="3.6" ry="2.0" transform="rotate(13 457.7 2367.8)"/>
<ellipse cx="480.2" cy="2400.8" rx="5.5" ry="2.9" transform="rotate(-4 480.2 2400.8)"/>
<ellipse cx="446.3" cy="2316.6" rx="5.1" ry="2.6" transform="rotate(-10 446.3 2316.6)"/>
<ellipse cx="623.5" cy="2461.5" rx="4.1" ry="1.6" transform="rotate(-14 623.5 2461.5)"/>
<ellipse cx="475.4" cy="2390.3" rx="3.6" ry="2.0" transform="rotate(-50 475.4 2390.3)"/>
<ellipse cx="435.7" cy="2276.3" rx="3.6" ry="1.5" transform="rotate(-27 435.7 2276.3)"/>
<ellipse cx="447.3" cy="2239.7" rx="2.9" ry="1.7" transform="rotate(-32 447.3 2239.7)"/>
<ellipse cx="457.1" cy="2337.1" rx="2.2" ry="1.4" transform="rotate(-48 457.1 2337.1)"/>
<ellipse cx="560.7" cy="2439.9" rx="2.0" ry="1.3" transform="rotate(-23 560.7 2439.9)"/>
<ellipse cx="564.5" cy="2429.8" rx="3.2" ry="1.8" transform="rotate(-28 564.5 2429.8)"/>
<ellipse cx="433.9" cy="2283.5" rx="2.0" ry="1.4" transform="rotate(14 433.9 2283.5)"/>
<ellipse cx="625.4" cy="2452.9" rx="4.4" ry="2.2" transform="rotate(-10 625.4 2452.9)"/>
<ellipse cx="621.6" cy="2454.1" rx="4.6" ry="2.0" transform="rotate(6 621.6 2454.1)"/>
<ellipse cx="663.9" cy="2472.7" rx="3.9" ry="1.8" transform="rotate(-52 663.9 2472.7)"/>
<ellipse cx="460.3" cy="2204.3" rx="2.0" ry="1.3" transform="rotate(-50 460.3 2204.3)"/>
<ellipse cx="483.7" cy="2403.9" rx="2.7" ry="1.5" transform="rotate(2 483.7 2403.9)"/>
<ellipse cx="501.6" cy="2402.8" rx="2.7" ry="1.6" transform="rotate(-21 501.6 2402.8)"/>
<ellipse cx="436.5" cy="2302.2" rx="4.3" ry="2.0" transform="rotate(-6 436.5 2302.2)"/>
<ellipse cx="520.9" cy="2418.6" rx="5.8" ry="3.0" transform="rotate(-15 520.9 2418.6)"/>
<ellipse cx="615.3" cy="2459.0" rx="2.9" ry="1.7" transform="rotate(-6 615.3 2459.0)"/>
<ellipse cx="487.0" cy="2408.8" rx="5.2" ry="2.2" transform="rotate(-53 487.0 2408.8)"/>
<ellipse cx="481.3" cy="2361.1" rx="5.6" ry="3.1" transform="rotate(-18 481.3 2361.1)"/>
<ellipse cx="459.6" cy="2212.4" rx="6.0" ry="2.3" transform="rotate(-52 459.6 2212.4)"/>
<ellipse cx="461.4" cy="2366.0" rx="3.4" ry="1.8" transform="rotate(-58 461.4 2366.0)"/>
<ellipse cx="633.1" cy="2467.8" rx="3.0" ry="1.5" transform="rotate(-44 633.1 2467.8)"/>
<ellipse cx="431.0" cy="2271.1" rx="3.4" ry="2.0" transform="rotate(12 431.0 2271.1)"/>
<ellipse cx="435.4" cy="2240.3" rx="5.0" ry="2.9" transform="rotate(-6 435.4 2240.3)"/>
<ellipse cx="453.2" cy="2333.8" rx="2.7" ry="1.5" transform="rotate(-49 453.2 2333.8)"/>
<ellipse cx="457.2" cy="2324.3" rx="2.4" ry="1.4" transform="rotate(7 457.2 2324.3)"/>
<ellipse cx="509.0" cy="2428.8" rx="3.9" ry="2.0" transform="rotate(-49 509.0 2428.8)"/>
<ellipse cx="461.3" cy="2275.4" rx="5.4" ry="2.1" transform="rotate(-47 461.3 2275.4)"/>
<ellipse cx="677.7" cy="2477.5" rx="5.7" ry="1.7" transform="rotate(-37 677.7 2477.5)"/>
<ellipse cx="457.3" cy="2200.5" rx="5.3" ry="2.4" transform="rotate(-45 457.3 2200.5)"/>
<ellipse cx="477.5" cy="2358.8" rx="2.6" ry="1.5" transform="rotate(2 477.5 2358.8)"/>
<ellipse cx="441.5" cy="2224.3" rx="4.4" ry="2.1" transform="rotate(-38 441.5 2224.3)"/>
<ellipse cx="474.4" cy="2370.3" rx="4.8" ry="2.6" transform="rotate(-13 474.4 2370.3)"/>
<ellipse cx="504.1" cy="2397.7" rx="3.5" ry="2.0" transform="rotate(-55 504.1 2397.7)"/>
<ellipse cx="647.1" cy="2465.2" rx="4.0" ry="2.0" transform="rotate(-18 647.1 2465.2)"/>
<ellipse cx="428.8" cy="2226.8" rx="4.8" ry="1.8" transform="rotate(-59 428.8 2226.8)"/>
<ellipse cx="452.9" cy="2337.2" rx="4.0" ry="1.8" transform="rotate(-50 452.9 2337.2)"/>
<ellipse cx="574.3" cy="2439.4" rx="2.6" ry="1.5" transform="rotate(0 574.3 2439.4)"/>
<ellipse cx="529.9" cy="2433.4" rx="4.1" ry="1.9" transform="rotate(15 529.9 2433.4)"/>
<ellipse cx="629.3" cy="2453.8" rx="5.3" ry="2.9" transform="rotate(-56 629.3 2453.8)"/>
<ellipse cx="438.9" cy="2320.4" rx="4.0" ry="1.5" transform="rotate(-49 438.9 2320.4)"/>
<ellipse cx="452.2" cy="2365.2" rx="5.8" ry="2.5" transform="rotate(-39 452.2 2365.2)"/>
<ellipse cx="459.4" cy="2234.4" rx="2.5" ry="1.5" transform="rotate(-27 459.4 2234.4)"/>
<ellipse cx="443.8" cy="2351.9" rx="5.4" ry="2.5" transform="rotate(-14 443.8 2351.9)"/>
<ellipse cx="482.8" cy="2354.7" rx="4.0" ry="1.8" transform="rotate(19 482.8 2354.7)"/>
<ellipse cx="497.5" cy="2414.7" rx="2.6" ry="1.5" transform="rotate(10 497.5 2414.7)"/>
<ellipse cx="604.5" cy="2454.3" rx="2.5" ry="1.5" transform="rotate(-60 604.5 2454.3)"/>
<ellipse cx="458.6" cy="2360.0" rx="4.3" ry="1.6" transform="rotate(14 458.6 2360.0)"/>
<ellipse cx="638.1" cy="2466.5" rx="2.8" ry="1.6" transform="rotate(13 638.1 2466.5)"/>
<ellipse cx="423.8" cy="2213.2" rx="4.3" ry="2.0" transform="rotate(14 423.8 2213.2)"/>
<ellipse cx="648.9" cy="2468.1" rx="3.9" ry="1.9" transform="rotate(-10 648.9 2468.1)"/>
<ellipse cx="558.3" cy="2426.8" rx="2.7" ry="1.5" transform="rotate(18 558.3 2426.8)"/>
<ellipse cx="468.2" cy="2375.2" rx="4.4" ry="1.9" transform="rotate(19 468.2 2375.2)"/>
<ellipse cx="527.6" cy="2419.0" rx="3.2" ry="1.8" transform="rotate(-60 527.6 2419.0)"/>
<ellipse cx="471.9" cy="2338.4" rx="4.2" ry="1.8" transform="rotate(-8 471.9 2338.4)"/>
<ellipse cx="452.5" cy="2243.6" rx="5.0" ry="1.7" transform="rotate(-52 452.5 2243.6)"/>
<ellipse cx="465.2" cy="2345.3" rx="5.3" ry="2.5" transform="rotate(5 465.2 2345.3)"/>
<ellipse cx="437.1" cy="2203.5" rx="5.1" ry="2.0" transform="rotate(-3 437.1 2203.5)"/>
<ellipse cx="450.8" cy="2348.4" rx="3.5" ry="1.8" transform="rotate(-55 450.8 2348.4)"/>
<ellipse cx="445.0" cy="2275.0" rx="5.3" ry="1.7" transform="rotate(-25 445.0 2275.0)"/>
<ellipse cx="462.2" cy="2298.1" rx="4.9" ry="2.0" transform="rotate(17 462.2 2298.1)"/>
<ellipse cx="491.0" cy="2414.5" rx="3.5" ry="1.9" transform="rotate(-15 491.0 2414.5)"/>
<ellipse cx="443.3" cy="2249.2" rx="5.4" ry="2.1" transform="rotate(-7 443.3 2249.2)"/>
<ellipse cx="449.2" cy="2356.2" rx="3.4" ry="1.8" transform="rotate(-36 449.2 2356.2)"/>
<ellipse cx="438.1" cy="2286.5" rx="2.9" ry="1.5" transform="rotate(-3 438.1 2286.5)"/>
<ellipse cx="455.2" cy="2276.9" rx="2.1" ry="1.3" transform="rotate(-7 455.2 2276.9)"/>
<ellipse cx="431.4" cy="2245.0" rx="2.8" ry="1.6" transform="rotate(-30 431.4 2245.0)"/>
<ellipse cx="431.2" cy="2286.4" rx="4.6" ry="1.7" transform="rotate(7 431.2 2286.4)"/>
<ellipse cx="523.0" cy="2407.8" rx="5.3" ry="2.0" transform="rotate(-53 523.0 2407.8)"/>
<ellipse cx="436.4" cy="2299.5" rx="3.6" ry="1.6" transform="rotate(-35 436.4 2299.5)"/>
<ellipse cx="450.3" cy="2290.2" rx="3.9" ry="1.8" transform="rotate(-47 450.3 2290.2)"/>
<ellipse cx="439.6" cy="2203.0" rx="6.0" ry="3.1" transform="rotate(-53 439.6 2203.0)"/>
<ellipse cx="470.2" cy="2351.0" rx="2.0" ry="1.2" transform="rotate(-8 470.2 2351.0)"/>
<ellipse cx="469.1" cy="2377.4" rx="5.4" ry="3.1" transform="rotate(-47 469.1 2377.4)"/>
<ellipse cx="603.7" cy="2451.6" rx="5.8" ry="2.5" transform="rotate(-20 603.7 2451.6)"/>
<ellipse cx="461.8" cy="2283.3" rx="4.3" ry="1.6" transform="rotate(-5 461.8 2283.3)"/>
<ellipse cx="463.4" cy="2323.2" rx="5.9" ry="1.7" transform="rotate(-57 463.4 2323.2)"/>
<ellipse cx="494.4" cy="2383.9" rx="4.1" ry="1.9" transform="rotate(-33 494.4 2383.9)"/>
<ellipse cx="635.0" cy="2451.3" rx="2.7" ry="1.5" transform="rotate(-25 635.0 2451.3)"/>
<ellipse cx="645.1" cy="2470.9" rx="5.8" ry="2.7" transform="rotate(5 645.1 2470.9)"/>
<ellipse cx="469.9" cy="2388.7" rx="3.8" ry="1.6" transform="rotate(-7 469.9 2388.7)"/>
<ellipse cx="450.6" cy="2250.2" rx="5.6" ry="2.5" transform="rotate(-51 450.6 2250.2)"/>
<ellipse cx="445.6" cy="2347.6" rx="3.0" ry="1.6" transform="rotate(-16 445.6 2347.6)"/>
<ellipse cx="479.7" cy="2359.2" rx="2.5" ry="1.5" transform="rotate(-13 479.7 2359.2)"/>
<ellipse cx="441.8" cy="2313.4" rx="2.3" ry="1.4" transform="rotate(9 441.8 2313.4)"/>
<ellipse cx="509.4" cy="2412.3" rx="4.7" ry="2.6" transform="rotate(-50 509.4 2412.3)"/>
<ellipse cx="517.6" cy="2405.0" rx="5.8" ry="2.9" transform="rotate(-57 517.6 2405.0)"/>
<ellipse cx="450.4" cy="2205.8" rx="2.4" ry="1.5" transform="rotate(-45 450.4 2205.8)"/>
<ellipse cx="630.3" cy="2463.8" rx="2.1" ry="1.4" transform="rotate(-48 630.3 2463.8)"/>
<ellipse cx="551.0" cy="2442.7" rx="5.2" ry="1.6" transform="rotate(-45 551.0 2442.7)"/>
<ellipse cx="432.3" cy="2247.2" rx="3.4" ry="1.8" transform="rotate(-14 432.3 2247.2)"/>
<ellipse cx="432.8" cy="2240.5" rx="4.7" ry="1.9" transform="rotate(-38 432.8 2240.5)"/>
<ellipse cx="647.1" cy="2460.9" rx="4.7" ry="1.9" transform="rotate(1 647.1 2460.9)"/>
<ellipse cx="436.7" cy="2293.7" rx="3.3" ry="2.0" transform="rotate(-21 436.7 2293.7)"/>
<ellipse cx="456.1" cy="2202.0" rx="5.5" ry="2.3" transform="rotate(-24 456.1 2202.0)"/>
<ellipse cx="441.7" cy="2249.7" rx="4.3" ry="2.6" transform="rotate(-31 441.7 2249.7)"/>
<ellipse cx="427.0" cy="2245.7" rx="3.1" ry="1.7" transform="rotate(-43 427.0 2245.7)"/>
<ellipse cx="577.2" cy="2440.2" rx="4.6" ry="1.7" transform="rotate(-1 577.2 2440.2)"/>
<ellipse cx="456.4" cy="2252.3" rx="4.1" ry="2.4" transform="rotate(-9 456.4 2252.3)"/>
<ellipse cx="505.6" cy="2408.3" rx="4.6" ry="2.0" transform="rotate(-6 505.6 2408.3)"/>
<ellipse cx="445.2" cy="2243.4" rx="2.6" ry="1.5" transform="rotate(-53 445.2 2243.4)"/>
<ellipse cx="455.2" cy="2202.5" rx="3.9" ry="2.1" transform="rotate(2 455.2 2202.5)"/>
<ellipse cx="444.3" cy="2207.8" rx="2.5" ry="1.5" transform="rotate(-20 444.3 2207.8)"/>
<ellipse cx="459.7" cy="2249.3" rx="5.0" ry="2.9" transform="rotate(-47 459.7 2249.3)"/>
<ellipse cx="510.2" cy="2422.5" rx="3.8" ry="1.8" transform="rotate(12 510.2 2422.5)"/>
<ellipse cx="477.1" cy="2358.3" rx="2.6" ry="1.6" transform="rotate(10 477.1 2358.3)"/>
<ellipse cx="490.2" cy="2408.9" rx="5.3" ry="2.0" transform="rotate(-33 490.2 2408.9)"/>
<ellipse cx="571.0" cy="2445.4" rx="2.8" ry="1.7" transform="rotate(-31 571.0 2445.4)"/>
<ellipse cx="427.3" cy="2231.0" rx="5.9" ry="1.5" transform="rotate(13 427.3 2231.0)"/>
<ellipse cx="446.3" cy="2246.9" rx="4.7" ry="1.6" transform="rotate(-33 446.3 2246.9)"/>
<ellipse cx="429.5" cy="2265.2" rx="5.2" ry="2.6" transform="rotate(-57 429.5 2265.2)"/>
<ellipse cx="452.2" cy="2335.5" rx="2.5" ry="1.5" transform="rotate(-46 452.2 2335.5)"/>
<ellipse cx="450.1" cy="2298.3" rx="4.0" ry="2.3" transform="rotate(-32 450.1 2298.3)"/>
<ellipse cx="487.0" cy="2369.8" rx="3.5" ry="1.6" transform="rotate(-44 487.0 2369.8)"/>
<ellipse cx="624.0" cy="2452.6" rx="2.2" ry="1.4" transform="rotate(-34 624.0 2452.6)"/>
<ellipse cx="481.7" cy="2375.0" rx="5.0" ry="2.1" transform="rotate(-3 481.7 2375.0)"/>
<ellipse cx="557.6" cy="2426.1" rx="3.0" ry="1.5" transform="rotate(6 557.6 2426.1)"/>
<ellipse cx="519.7" cy="2431.3" rx="5.3" ry="1.7" transform="rotate(-48 519.7 2431.3)"/>
<ellipse cx="513.4" cy="2423.3" rx="4.1" ry="1.9" transform="rotate(-53 513.4 2423.3)"/>
<ellipse cx="544.9" cy="2421.9" rx="5.0" ry="1.7" transform="rotate(-6 544.9 2421.9)"/>
<ellipse cx="425.6" cy="2255.8" rx="4.3" ry="1.6" transform="rotate(-46 425.6 2255.8)"/>
<ellipse cx="585.8" cy="2438.8" rx="2.8" ry="1.6" transform="rotate(3 585.8 2438.8)"/>
<ellipse cx="540.7" cy="2433.4" rx="3.7" ry="1.8" transform="rotate(11 540.7 2433.4)"/>
<ellipse cx="553.6" cy="2429.3" rx="4.7" ry="2.5" transform="rotate(-28 553.6 2429.3)"/>
<ellipse cx="458.7" cy="2292.9" rx="4.1" ry="1.5" transform="rotate(19 458.7 2292.9)"/>
<ellipse cx="434.2" cy="2284.6" rx="5.5" ry="2.9" transform="rotate(9 434.2 2284.6)"/>
<ellipse cx="515.7" cy="2422.8" rx="2.8" ry="1.7" transform="rotate(-16 515.7 2422.8)"/>
<ellipse cx="434.3" cy="2287.4" rx="4.1" ry="1.9" transform="rotate(-15 434.3 2287.4)"/>
<ellipse cx="461.1" cy="2215.8" rx="4.8" ry="1.6" transform="rotate(7 461.1 2215.8)"/>
<ellipse cx="478.9" cy="2351.7" rx="2.4" ry="1.5" transform="rotate(-2 478.9 2351.7)"/>
<ellipse cx="679.0" cy="2461.2" rx="4.1" ry="1.8" transform="rotate(-32 679.0 2461.2)"/>
<ellipse cx="546.5" cy="2440.2" rx="4.4" ry="2.1" transform="rotate(-53 546.5 2440.2)"/>
<ellipse cx="457.2" cy="2275.4" rx="5.6" ry="3.1" transform="rotate(-42 457.2 2275.4)"/>
<ellipse cx="485.1" cy="2406.4" rx="2.7" ry="1.6" transform="rotate(-36 485.1 2406.4)"/>
<ellipse cx="445.8" cy="2353.3" rx="5.2" ry="2.4" transform="rotate(-23 445.8 2353.3)"/>
<ellipse cx="455.2" cy="2360.7" rx="3.4" ry="1.7" transform="rotate(-7 455.2 2360.7)"/>
<ellipse cx="451.3" cy="2337.9" rx="4.1" ry="1.6" transform="rotate(-23 451.3 2337.9)"/>
<ellipse cx="463.5" cy="2348.9" rx="4.0" ry="1.8" transform="rotate(-44 463.5 2348.9)"/>
<ellipse cx="453.9" cy="2266.7" rx="5.5" ry="2.4" transform="rotate(11 453.9 2266.7)"/>
<ellipse cx="460.8" cy="2273.4" rx="2.1" ry="1.4" transform="rotate(-19 460.8 2273.4)"/>
<ellipse cx="481.6" cy="2365.5" rx="5.1" ry="2.6" transform="rotate(-55 481.6 2365.5)"/>
<ellipse cx="484.6" cy="2366.6" rx="5.9" ry="1.6" transform="rotate(-11 484.6 2366.6)"/>
<ellipse cx="509.6" cy="2425.3" rx="3.8" ry="2.2" transform="rotate(-59 509.6 2425.3)"/>
<ellipse cx="484.4" cy="2404.0" rx="4.7" ry="1.7" transform="rotate(-32 484.4 2404.0)"/>
<ellipse cx="457.4" cy="2255.1" rx="2.9" ry="1.6" transform="rotate(18 457.4 2255.1)"/>
<ellipse cx="622.8" cy="2452.5" rx="5.0" ry="2.5" transform="rotate(-44 622.8 2452.5)"/>
<ellipse cx="582.9" cy="2435.1" rx="5.1" ry="1.6" transform="rotate(-3 582.9 2435.1)"/>
<ellipse cx="635.6" cy="2460.5" rx="5.6" ry="2.9" transform="rotate(7 635.6 2460.5)"/>
<ellipse cx="533.7" cy="2429.4" rx="5.1" ry="2.9" transform="rotate(-36 533.7 2429.4)"/>
<ellipse cx="522.5" cy="2417.9" rx="5.2" ry="2.6" transform="rotate(15 522.5 2417.9)"/>
<ellipse cx="575.1" cy="2432.5" rx="5.2" ry="1.5" transform="rotate(-21 575.1 2432.5)"/>
<ellipse cx="425.2" cy="2230.7" rx="5.2" ry="2.2" transform="rotate(-12 425.2 2230.7)"/>
<ellipse cx="491.2" cy="2394.9" rx="3.8" ry="2.0" transform="rotate(5 491.2 2394.9)"/>
<ellipse cx="579.1" cy="2448.5" rx="3.6" ry="1.8" transform="rotate(16 579.1 2448.5)"/>
<ellipse cx="463.0" cy="2346.6" rx="2.0" ry="1.4" transform="rotate(16 463.0 2346.6)"/>
<ellipse cx="538.7" cy="2425.0" rx="3.0" ry="1.6" transform="rotate(-52 538.7 2425.0)"/>
<ellipse cx="564.1" cy="2439.7" rx="4.1" ry="1.9" transform="rotate(14 564.1 2439.7)"/>
<ellipse cx="458.4" cy="2363.3" rx="4.3" ry="1.6" transform="rotate(-29 458.4 2363.3)"/>
<ellipse cx="493.7" cy="2412.0" rx="3.2" ry="1.7" transform="rotate(-26 493.7 2412.0)"/>
<ellipse cx="457.2" cy="2343.4" rx="5.5" ry="1.8" transform="rotate(-1 457.2 2343.4)"/>
<ellipse cx="434.9" cy="2282.7" rx="3.5" ry="2.1" transform="rotate(17 434.9 2282.7)"/>
<ellipse cx="449.1" cy="2272.3" rx="3.6" ry="1.7" transform="rotate(17 449.1 2272.3)"/>
<ellipse cx="522.7" cy="2424.0" rx="3.4" ry="1.6" transform="rotate(10 522.7 2424.0)"/>
<ellipse cx="594.4" cy="2450.6" rx="2.5" ry="1.5" transform="rotate(-55 594.4 2450.6)"/>
<ellipse cx="479.1" cy="2375.0" rx="3.4" ry="1.7" transform="rotate(-15 479.1 2375.0)"/>
<ellipse cx="472.2" cy="2395.6" rx="2.8" ry="1.5" transform="rotate(-15 472.2 2395.6)"/>
<ellipse cx="614.6" cy="2463.6" rx="5.7" ry="2.9" transform="rotate(-2 614.6 2463.6)"/>
<ellipse cx="437.2" cy="2257.2" rx="2.1" ry="1.3" transform="rotate(-2 437.2 2257.2)"/>
<ellipse cx="448.6" cy="2242.8" rx="5.1" ry="2.2" transform="rotate(19 448.6 2242.8)"/>
<ellipse cx="544.3" cy="2428.5" rx="2.5" ry="1.5" transform="rotate(-15 544.3 2428.5)"/>
<ellipse cx="665.8" cy="2472.6" rx="3.7" ry="2.0" transform="rotate(-29 665.8 2472.6)"/>
<ellipse cx="455.7" cy="2203.6" rx="2.9" ry="1.6" transform="rotate(-30 455.7 2203.6)"/>
<ellipse cx="437.3" cy="2266.3" rx="5.9" ry="2.0" transform="rotate(-29 437.3 2266.3)"/>
<ellipse cx="430.9" cy="2226.1" rx="5.9" ry="3.1" transform="rotate(-57 430.9 2226.1)"/>
<ellipse cx="433.6" cy="2266.8" rx="5.7" ry="1.9" transform="rotate(-6 433.6 2266.8)"/>
<ellipse cx="460.7" cy="2205.1" rx="5.0" ry="1.7" transform="rotate(18 460.7 2205.1)"/>
<ellipse cx="624.8" cy="2447.3" rx="5.7" ry="1.5" transform="rotate(8 624.8 2447.3)"/>
<ellipse cx="441.1" cy="2215.1" rx="4.2" ry="1.8" transform="rotate(-28 441.1 2215.1)"/>
<ellipse cx="447.3" cy="2302.2" rx="3.2" ry="1.8" transform="rotate(-48 447.3 2302.2)"/>
<ellipse cx="440.4" cy="2231.6" rx="4.8" ry="2.3" transform="rotate(-18 440.4 2231.6)"/>
<ellipse cx="627.3" cy="2453.8" rx="5.3" ry="2.7" transform="rotate(-58 627.3 2453.8)"/>
<ellipse cx="445.5" cy="2323.1" rx="5.9" ry="2.8" transform="rotate(15 445.5 2323.1)"/>
<ellipse cx="462.7" cy="2347.6" rx="4.6" ry="2.2" transform="rotate(15 462.7 2347.6)"/>
<ellipse cx="444.2" cy="2259.0" rx="3.1" ry="1.9" transform="rotate(-59 444.2 2259.0)"/>
<ellipse cx="488.4" cy="2399.0" rx="6.0" ry="1.9" transform="rotate(-25 488.4 2399.0)"/>
<ellipse cx="438.3" cy="2204.0" rx="3.4" ry="1.6" transform="rotate(-51 438.3 2204.0)"/>
<ellipse cx="446.9" cy="2284.3" rx="3.6" ry="2.0" transform="rotate(-24 446.9 2284.3)"/>
<ellipse cx="423.5" cy="2252.8" rx="5.6" ry="1.8" transform="rotate(-7 423.5 2252.8)"/>
<ellipse cx="437.8" cy="2204.1" rx="5.4" ry="1.7" transform="rotate(17 437.8 2204.1)"/>
<ellipse cx="515.2" cy="2400.9" rx="2.6" ry="1.5" transform="rotate(-40 515.2 2400.9)"/>
<ellipse cx="449.9" cy="2269.0" rx="5.2" ry="2.0" transform="rotate(-30 449.9 2269.0)"/>
<ellipse cx="445.3" cy="2232.7" rx="3.9" ry="1.6" transform="rotate(-42 445.3 2232.7)"/>
<ellipse cx="438.6" cy="2300.4" rx="3.9" ry="2.3" transform="rotate(-16 438.6 2300.4)"/>
<ellipse cx="439.5" cy="2261.8" rx="5.0" ry="2.3" transform="rotate(10 439.5 2261.8)"/>
<ellipse cx="440.3" cy="2325.9" rx="3.3" ry="1.6" transform="rotate(-7 440.3 2325.9)"/>
<ellipse cx="479.8" cy="2366.2" rx="5.6" ry="1.7" transform="rotate(-43 479.8 2366.2)"/>
<ellipse cx="457.4" cy="2253.2" rx="5.0" ry="2.4" transform="rotate(15 457.4 2253.2)"/>
<ellipse cx="456.7" cy="2266.8" rx="2.5" ry="1.5" transform="rotate(-48 456.7 2266.8)"/>
<ellipse cx="456.5" cy="2345.2" rx="4.3" ry="2.5" transform="rotate(-55 456.5 2345.2)"/>
<ellipse cx="592.4" cy="2439.1" rx="5.8" ry="2.0" transform="rotate(15 592.4 2439.1)"/>
<ellipse cx="558.1" cy="2436.0" rx="5.2" ry="2.6" transform="rotate(-19 558.1 2436.0)"/>
<ellipse cx="439.3" cy="2099.4" rx="4.6" ry="2.3" transform="rotate(4 439.3 2099.4)"/>
<ellipse cx="446.7" cy="2083.3" rx="5.6" ry="2.6" transform="rotate(-45 446.7 2083.3)"/>
<ellipse cx="495.1" cy="2100.5" rx="2.9" ry="1.6" transform="rotate(-18 495.1 2100.5)"/>
<ellipse cx="493.7" cy="2083.0" rx="5.0" ry="2.4" transform="rotate(-22 493.7 2083.0)"/>
<ellipse cx="493.2" cy="2152.8" rx="2.0" ry="1.4" transform="rotate(-6 493.2 2152.8)"/>
<ellipse cx="496.8" cy="2138.2" rx="2.7" ry="1.6" transform="rotate(3 496.8 2138.2)"/>
<ellipse cx="450.6" cy="2117.3" rx="5.8" ry="1.9" transform="rotate(-27 450.6 2117.3)"/>
<ellipse cx="450.6" cy="2146.6" rx="3.4" ry="1.9" transform="rotate(1 450.6 2146.6)"/>
<ellipse cx="440.4" cy="2097.4" rx="2.9" ry="1.6" transform="rotate(-57 440.4 2097.4)"/>
<ellipse cx="441.2" cy="2115.0" rx="3.7" ry="1.6" transform="rotate(-13 441.2 2115.0)"/>
<ellipse cx="462.5" cy="2143.6" rx="3.7" ry="1.6" transform="rotate(-21 462.5 2143.6)"/>
<ellipse cx="429.7" cy="2140.9" rx="2.6" ry="1.5" transform="rotate(17 429.7 2140.9)"/>
<ellipse cx="490.3" cy="2136.9" rx="4.8" ry="2.8" transform="rotate(-44 490.3 2136.9)"/>
<ellipse cx="502.3" cy="2104.9" rx="3.0" ry="1.8" transform="rotate(-12 502.3 2104.9)"/>
<ellipse cx="485.1" cy="2095.0" rx="2.1" ry="1.4" transform="rotate(-2 485.1 2095.0)"/>
<ellipse cx="454.4" cy="2082.7" rx="2.0" ry="1.5" transform="rotate(-4 454.4 2082.7)"/>
<ellipse cx="453.7" cy="2144.3" rx="5.9" ry="1.5" transform="rotate(-51 453.7 2144.3)"/>
<ellipse cx="442.4" cy="2108.2" rx="4.1" ry="1.8" transform="rotate(-27 442.4 2108.2)"/>
<ellipse cx="474.4" cy="2100.8" rx="2.2" ry="1.5" transform="rotate(-47 474.4 2100.8)"/>
<ellipse cx="436.9" cy="2135.9" rx="4.8" ry="1.9" transform="rotate(3 436.9 2135.9)"/>
<ellipse cx="498.7" cy="2108.8" rx="4.0" ry="1.7" transform="rotate(14 498.7 2108.8)"/>
<ellipse cx="482.4" cy="2080.9" rx="2.6" ry="1.5" transform="rotate(-29 482.4 2080.9)"/>
<ellipse cx="497.6" cy="2098.0" rx="5.2" ry="2.8" transform="rotate(-52 497.6 2098.0)"/>
<ellipse cx="484.9" cy="2094.4" rx="4.8" ry="2.6" transform="rotate(3 484.9 2094.4)"/>
<ellipse cx="450.4" cy="2085.0" rx="4.7" ry="2.2" transform="rotate(-49 450.4 2085.0)"/>
<ellipse cx="446.7" cy="2131.9" rx="2.4" ry="1.5" transform="rotate(-41 446.7 2131.9)"/>
<ellipse cx="453.1" cy="2116.7" rx="4.1" ry="2.2" transform="rotate(-58 453.1 2116.7)"/>
<ellipse cx="498.3" cy="2097.2" rx="3.2" ry="1.8" transform="rotate(-5 498.3 2097.2)"/>
<ellipse cx="487.6" cy="2162.6" rx="2.8" ry="1.6" transform="rotate(-7 487.6 2162.6)"/>
<ellipse cx="453.3" cy="2091.1" rx="2.9" ry="1.7" transform="rotate(6 453.3 2091.1)"/>
<ellipse cx="505.1" cy="2105.7" rx="3.3" ry="1.8" transform="rotate(-56 505.1 2105.7)"/>
<ellipse cx="487.1" cy="2084.6" rx="2.2" ry="1.4" transform="rotate(-48 487.1 2084.6)"/>
<ellipse cx="472.8" cy="2095.0" rx="2.5" ry="1.5" transform="rotate(-18 472.8 2095.0)"/>
<ellipse cx="463.2" cy="2144.8" rx="4.1" ry="2.3" transform="rotate(-52 463.2 2144.8)"/>
<ellipse cx="434.8" cy="2113.2" rx="3.9" ry="1.7" transform="rotate(-7 434.8 2113.2)"/>
<ellipse cx="449.5" cy="2106.6" rx="3.9" ry="2.1" transform="rotate(2 449.5 2106.6)"/>
<ellipse cx="464.1" cy="2118.9" rx="5.7" ry="3.3" transform="rotate(-11 464.1 2118.9)"/>
<ellipse cx="438.2" cy="2119.7" rx="4.5" ry="1.8" transform="rotate(-57 438.2 2119.7)"/>
<ellipse cx="440.5" cy="2120.7" rx="4.5" ry="1.9" transform="rotate(-55 440.5 2120.7)"/>
<ellipse cx="500.8" cy="2150.0" rx="3.7" ry="1.6" transform="rotate(-28 500.8 2150.0)"/>
<ellipse cx="502.5" cy="2089.0" rx="2.4" ry="1.5" transform="rotate(-47 502.5 2089.0)"/>
<ellipse cx="479.6" cy="2156.0" rx="2.7" ry="1.5" transform="rotate(1 479.6 2156.0)"/>
<ellipse cx="469.3" cy="2108.5" rx="2.5" ry="1.5" transform="rotate(18 469.3 2108.5)"/>
<ellipse cx="439.3" cy="2100.9" rx="5.0" ry="2.8" transform="rotate(12 439.3 2100.9)"/>
<ellipse cx="473.9" cy="2167.8" rx="4.4" ry="1.8" transform="rotate(-23 473.9 2167.8)"/>
<ellipse cx="497.5" cy="2146.5" rx="2.5" ry="1.5" transform="rotate(17 497.5 2146.5)"/>
<ellipse cx="438.4" cy="2154.1" rx="3.4" ry="1.6" transform="rotate(-40 438.4 2154.1)"/>
<ellipse cx="473.5" cy="2171.1" rx="2.6" ry="1.5" transform="rotate(-34 473.5 2171.1)"/>
<ellipse cx="444.8" cy="2147.5" rx="3.4" ry="1.6" transform="rotate(-27 444.8 2147.5)"/>
<ellipse cx="483.8" cy="2077.0" rx="5.1" ry="2.4" transform="rotate(12 483.8 2077.0)"/>
<ellipse cx="520.3" cy="2107.4" rx="5.4" ry="2.9" transform="rotate(-39 520.3 2107.4)"/>
<ellipse cx="463.5" cy="2112.0" rx="3.4" ry="1.7" transform="rotate(-51 463.5 2112.0)"/>
<ellipse cx="450.0" cy="2163.3" rx="3.6" ry="1.9" transform="rotate(11 450.0 2163.3)"/>
<ellipse cx="501.3" cy="2099.5" rx="5.7" ry="3.0" transform="rotate(19 501.3 2099.5)"/>
<ellipse cx="498.6" cy="2148.5" rx="5.3" ry="1.9" transform="rotate(-8 498.6 2148.5)"/>
<ellipse cx="464.9" cy="2156.6" rx="2.5" ry="1.5" transform="rotate(-33 464.9 2156.6)"/>
<ellipse cx="507.6" cy="2109.1" rx="5.4" ry="3.0" transform="rotate(10 507.6 2109.1)"/>
<ellipse cx="500.2" cy="2141.0" rx="4.6" ry="1.6" transform="rotate(10 500.2 2141.0)"/>
<ellipse cx="481.1" cy="2119.7" rx="3.4" ry="1.9" transform="rotate(3 481.1 2119.7)"/>
<ellipse cx="512.4" cy="2096.6" rx="3.4" ry="1.6" transform="rotate(-52 512.4 2096.6)"/>
<ellipse cx="459.7" cy="2078.5" rx="5.2" ry="1.9" transform="rotate(-54 459.7 2078.5)"/>
<ellipse cx="434.6" cy="2147.1" rx="2.8" ry="1.6" transform="rotate(-28 434.6 2147.1)"/>
<ellipse cx="458.1" cy="2136.7" rx="5.6" ry="2.4" transform="rotate(12 458.1 2136.7)"/>
<ellipse cx="499.2" cy="2105.9" rx="5.5" ry="2.5" transform="rotate(-52 499.2 2105.9)"/>
<ellipse cx="485.0" cy="2155.6" rx="4.1" ry="2.0" transform="rotate(-27 485.0 2155.6)"/>
<ellipse cx="448.2" cy="2110.8" rx="3.5" ry="2.0" transform="rotate(-4 448.2 2110.8)"/>
<ellipse cx="431.4" cy="2132.7" rx="3.7" ry="2.0" transform="rotate(-26 431.4 2132.7)"/>
<ellipse cx="437.0" cy="2126.3" rx="5.3" ry="2.8" transform="rotate(-31 437.0 2126.3)"/>
<ellipse cx="449.6" cy="2147.5" rx="5.2" ry="1.9" transform="rotate(11 449.6 2147.5)"/>
<ellipse cx="464.9" cy="2144.1" rx="5.7" ry="1.9" transform="rotate(-36 464.9 2144.1)"/>
<ellipse cx="459.9" cy="2146.3" rx="2.7" ry="1.6" transform="rotate(-20 459.9 2146.3)"/>
<ellipse cx="492.8" cy="2089.8" rx="5.8" ry="3.5" transform="rotate(-15 492.8 2089.8)"/>
<ellipse cx="505.1" cy="2093.6" rx="5.6" ry="2.5" transform="rotate(1 505.1 2093.6)"/>
<ellipse cx="512.2" cy="2110.7" rx="5.7" ry="1.9" transform="rotate(-58 512.2 2110.7)"/>
<ellipse cx="476.7" cy="2162.3" rx="5.6" ry="3.3" transform="rotate(-19 476.7 2162.3)"/>
<ellipse cx="441.9" cy="2136.6" rx="5.2" ry="2.2" transform="rotate(-12 441.9 2136.6)"/>
<ellipse cx="453.1" cy="2102.5" rx="3.7" ry="1.9" transform="rotate(-23 453.1 2102.5)"/>
<ellipse cx="461.0" cy="2144.8" rx="5.0" ry="1.9" transform="rotate(-40 461.0 2144.8)"/>
<ellipse cx="478.1" cy="2092.8" rx="4.4" ry="2.5" transform="rotate(-44 478.1 2092.8)"/>
<ellipse cx="484.8" cy="2145.2" rx="5.0" ry="2.6" transform="rotate(-3 484.8 2145.2)"/>
<ellipse cx="454.4" cy="2156.5" rx="5.7" ry="1.6" transform="rotate(16 454.4 2156.5)"/>
<ellipse cx="470.9" cy="2084.3" rx="2.3" ry="1.4" transform="rotate(-6 470.9 2084.3)"/>
<ellipse cx="441.8" cy="2120.2" rx="4.6" ry="2.7" transform="rotate(-33 441.8 2120.2)"/>
<ellipse cx="502.4" cy="2099.5" rx="2.8" ry="1.5" transform="rotate(-27 502.4 2099.5)"/>
<ellipse cx="488.0" cy="2105.1" rx="2.6" ry="1.5" transform="rotate(-53 488.0 2105.1)"/>
<ellipse cx="446.7" cy="2106.3" rx="4.0" ry="1.7" transform="rotate(-22 446.7 2106.3)"/>
<ellipse cx="470.7" cy="2169.4" rx="3.9" ry="2.3" transform="rotate(-22 470.7 2169.4)"/>
<ellipse cx="447.2" cy="2132.8" rx="2.6" ry="1.5" transform="rotate(-54 447.2 2132.8)"/>
<ellipse cx="467.1" cy="2110.0" rx="3.7" ry="1.8" transform="rotate(-5 467.1 2110.0)"/>
<ellipse cx="466.0" cy="2090.6" rx="5.5" ry="2.5" transform="rotate(-59 466.0 2090.6)"/>
<ellipse cx="462.4" cy="2136.5" rx="5.7" ry="2.3" transform="rotate(-25 462.4 2136.5)"/>
<ellipse cx="456.9" cy="2129.2" rx="4.7" ry="2.4" transform="rotate(16 456.9 2129.2)"/>
<ellipse cx="442.1" cy="2111.1" rx="5.4" ry="2.9" transform="rotate(-13 442.1 2111.1)"/>
<ellipse cx="493.7" cy="2108.6" rx="5.8" ry="2.6" transform="rotate(-28 493.7 2108.6)"/>
<ellipse cx="445.7" cy="2087.1" rx="5.6" ry="3.0" transform="rotate(-58 445.7 2087.1)"/>
<ellipse cx="459.4" cy="2122.0" rx="4.0" ry="1.8" transform="rotate(12 459.4 2122.0)"/>
<ellipse cx="461.9" cy="2127.1" rx="5.7" ry="2.7" transform="rotate(-22 461.9 2127.1)"/>
<ellipse cx="460.3" cy="2113.2" rx="4.4" ry="2.4" transform="rotate(-39 460.3 2113.2)"/>
<ellipse cx="463.9" cy="2113.2" rx="3.5" ry="2.0" transform="rotate(-17 463.9 2113.2)"/>
<ellipse cx="454.8" cy="2107.9" rx="5.3" ry="1.8" transform="rotate(-5 454.8 2107.9)"/>
<ellipse cx="433.8" cy="2153.3" rx="2.6" ry="1.5" transform="rotate(-55 433.8 2153.3)"/>
<ellipse cx="453.6" cy="2146.4" rx="4.9" ry="2.8" transform="rotate(16 453.6 2146.4)"/>
<ellipse cx="481.4" cy="2164.5" rx="2.4" ry="1.4" transform="rotate(-25 481.4 2164.5)"/>
<ellipse cx="446.7" cy="2147.8" rx="5.4" ry="2.2" transform="rotate(-53 446.7 2147.8)"/>
<ellipse cx="496.7" cy="2136.5" rx="2.4" ry="1.5" transform="rotate(-46 496.7 2136.5)"/>
<ellipse cx="487.1" cy="2140.6" rx="5.9" ry="2.2" transform="rotate(18 487.1 2140.6)"/>
<ellipse cx="470.1" cy="2113.5" rx="3.0" ry="1.6" transform="rotate(18 470.1 2113.5)"/>
<ellipse cx="445.0" cy="2093.3" rx="2.6" ry="1.5" transform="rotate(-1 445.0 2093.3)"/>
<ellipse cx="433.7" cy="2126.9" rx="4.7" ry="1.5" transform="rotate(-25 433.7 2126.9)"/>
<ellipse cx="504.7" cy="2131.3" rx="3.8" ry="2.2" transform="rotate(-12 504.7 2131.3)"/>
<ellipse cx="474.1" cy="2029.9" rx="3.9" ry="2.2" transform="rotate(13 474.1 2029.9)"/>
<ellipse cx="482.2" cy="2014.0" rx="2.4" ry="1.5" transform="rotate(-5 482.2 2014.0)"/>
<ellipse cx="490.3" cy="2037.4" rx="2.0" ry="1.3" transform="rotate(-27 490.3 2037.4)"/>
<ellipse cx="486.1" cy="2040.9" rx="3.5" ry="1.7" transform="rotate(17 486.1 2040.9)"/>
<ellipse cx="484.1" cy="2024.9" rx="2.8" ry="1.5" transform="rotate(12 484.1 2024.9)"/>
<ellipse cx="490.5" cy="2054.7" rx="3.6" ry="2.2" transform="rotate(-5 490.5 2054.7)"/>
<ellipse cx="442.5" cy="2197.0" rx="3.0" ry="1.7" transform="rotate(-47 442.5 2197.0)"/>
<ellipse cx="472.2" cy="2188.1" rx="3.1" ry="1.8" transform="rotate(-53 472.2 2188.1)"/>
<ellipse cx="476.2" cy="2197.0" rx="2.6" ry="1.5" transform="rotate(-14 476.2 2197.0)"/>
<ellipse cx="474.9" cy="2191.4" rx="3.7" ry="2.2" transform="rotate(-53 474.9 2191.4)"/>
<ellipse cx="467.7" cy="2175.4" rx="3.1" ry="1.5" transform="rotate(10 467.7 2175.4)"/>
<ellipse cx="449.3" cy="2196.0" rx="3.0" ry="1.7" transform="rotate(-8 449.3 2196.0)"/>
<ellipse cx="430.4" cy="2188.3" rx="4.9" ry="1.8" transform="rotate(-8 430.4 2188.3)"/>
<ellipse cx="440.3" cy="2184.2" rx="5.7" ry="3.3" transform="rotate(20 440.3 2184.2)"/>
<ellipse cx="448.5" cy="2190.9" rx="5.2" ry="2.7" transform="rotate(-24 448.5 2190.9)"/>
<ellipse cx="472.5" cy="2185.2" rx="5.8" ry="2.4" transform="rotate(-51 472.5 2185.2)"/>
<ellipse cx="466.2" cy="2176.8" rx="4.7" ry="1.6" transform="rotate(19 466.2 2176.8)"/>
<ellipse cx="454.8" cy="2196.4" rx="2.5" ry="1.5" transform="rotate(-30 454.8 2196.4)"/>
<ellipse cx="438.7" cy="2198.9" rx="2.1" ry="1.4" transform="rotate(-53 438.7 2198.9)"/>
<ellipse cx="471.8" cy="2201.5" rx="2.1" ry="1.4" transform="rotate(-22 471.8 2201.5)"/>
<ellipse cx="464.5" cy="2196.1" rx="3.4" ry="2.0" transform="rotate(-45 464.5 2196.1)"/>
<ellipse cx="432.5" cy="2198.9" rx="2.5" ry="1.5" transform="rotate(-20 432.5 2198.9)"/>
<ellipse cx="443.5" cy="2177.4" rx="5.7" ry="2.4" transform="rotate(3 443.5 2177.4)"/>
<ellipse cx="438.8" cy="2202.1" rx="2.9" ry="1.7" transform="rotate(-11 438.8 2202.1)"/>
<ellipse cx="478.4" cy="2197.4" rx="4.5" ry="2.1" transform="rotate(8 478.4 2197.4)"/>
<ellipse cx="449.4" cy="2175.2" rx="5.7" ry="3.0" transform="rotate(-5 449.4 2175.2)"/>
<ellipse cx="466.0" cy="2179.7" rx="3.9" ry="2.2" transform="rotate(17 466.0 2179.7)"/>
<ellipse cx="462.6" cy="2190.3" rx="3.6" ry="1.6" transform="rotate(-49 462.6 2190.3)"/>
<ellipse cx="450.9" cy="2188.3" rx="3.1" ry="1.6" transform="rotate(-16 450.9 2188.3)"/>
<ellipse cx="466.9" cy="2191.4" rx="2.6" ry="1.6" transform="rotate(-31 466.9 2191.4)"/>
<ellipse cx="432.7" cy="2191.2" rx="5.9" ry="2.3" transform="rotate(-16 432.7 2191.2)"/>
<ellipse cx="442.3" cy="2172.9" rx="2.8" ry="1.5" transform="rotate(-37 442.3 2172.9)"/>
<ellipse cx="459.6" cy="2190.6" rx="5.8" ry="2.9" transform="rotate(-31 459.6 2190.6)"/>
<ellipse cx="477.2" cy="2192.9" rx="4.2" ry="2.4" transform="rotate(-6 477.2 2192.9)"/>
<ellipse cx="444.8" cy="2192.0" rx="3.2" ry="1.9" transform="rotate(-40 444.8 2192.0)"/>
<ellipse cx="425.5" cy="2190.3" rx="2.8" ry="1.6" transform="rotate(-51 425.5 2190.3)"/>
</g>
</g>
<path d="M492,2008 L507,2005 L516,2012 L521,2030 L517,2055 L518,2080 L512,2098 L505,2112 L497,2117 L490,2112 L494,2090 L498,2068 L491,2060 L494,2040 L490,2022 Z" fill="#fff" stroke="#000" stroke-width="2"/>
<path d="M1255,1630 L1262,1640 L1250,1660 L1232,1675 L1215,1685 L1212,1678 L1228,1660 L1242,1640 Z" fill="#fff" stroke="#000" stroke-width="1.8"/>
<path d="M544.3,279.8 L550.6,267.3 L559.3,262.4 L563.1,252.4 L566.8,272.3 L574.3,279.8 L577.3,292.3 L573,303.5 L563.1,308.5 L551.8,307.3 L545.6,297.3 L544.3,287.3 Z" fill="#fff"/>
<path d="M551.9,226.3 L522.3,255.9 L507.5,280.6 L500.1,305.3 L517.4,301.3 L524.8,320.1 L529.7,344.7 L531.2,364.5 L542.1,376.8 L581.5,376.8 L606.2,379.3 L630.9,406.4 L670.3,403.9 L695,404.9 L697.5,416.3 L690.1,433.5 L685.1,458.2 L687.6,480.4 L697.5,495.2 L699.9,503.6 L685.1,517.4 L699.9,528.3 L704.9,544.5 L709.8,566.7 L719.7,574.1 L734.5,586.5 L749.3,581.5 L764.1,585.5 L769,577.6 L788.7,571.7 L803.5,561.8 L818.3,546 L835.6,542.1" fill="none" stroke="#000" stroke-width="1.8" stroke-linejoin="round"/>
<path d="M835.6,542.1 L818.3,522.3 L810.9,512.5 L808.5,497.7 L803.5,482.9 L788.7,470.5 L798.6,477 L818.3,481.9 L835.6,478.9 L847.9,488.8 L857.8,483.9 L882.5,473 L902.2,465.6 L917,455.7 L926.9,443.4 L946.6,439.5" fill="none" stroke="#000" stroke-width="1.8" stroke-linejoin="round"/>
<path d="M951.5,329.9 L939.2,344.7 L926.9,352.1 L934.3,366.9 L924.4,379.3 L902.2,416.3 L926.9,440.9" fill="none" stroke="#000" stroke-width="1.8" stroke-linejoin="round"/>
<path d="M946.6,439.5 L956.5,453.3 L961.4,477.9 L951.5,502.6 L956.5,542.1 L966.3,561.8 L986.1,571.7 L1027,556.9" fill="none" stroke="#000" stroke-width="1.8" stroke-linejoin="round"/>
<path d="M835.6,542.1 L852.9,551.9 L857.8,571.7 L862.7,601.3 L865.2,635.8 L882.5,655.5 L897.3,662.9 L894.8,638.3 L917,638.3 L931.8,633.3 L939.2,611.1 L946.6,603.7 L983.6,603.7 L986.1,571.7" fill="none" stroke="#000" stroke-width="1.8" stroke-linejoin="round"/>
<path d="M707.3,539.6 L699.9,542.1 L670.3,549.5 L621,554.4 L617.6,571.7 L640.7,576.6 L640.7,591.4 L611.1,593.9 L611.1,621 L628.4,640.7 L630.9,670.3 L625.9,709.8 L616.1,754.2" fill="none" stroke="#000" stroke-width="1.8" stroke-linejoin="round"/>
<path d="M315.1,566.7 L339.8,581.5 L359.5,596.3 L389.1,601.3 L408.9,598.8 L433.5,616.1 L453.3,625.9 L473,645.7 L492.7,662.9 L505.1,685.1 L522.3,690.1 L551.9,687.6 L581.5,690.1 L606.2,699.9 L611.1,719.7 L601.3,739.4 L611.1,754.2" fill="none" stroke="#000" stroke-width="1.8" stroke-linejoin="round"/>
<path d="M433.5,616.1 L438.5,640.7 L433.5,650.6 L423.7,670.3 L394.1,685.1 L364.5,699.9 L344.7,709.8 L334.9,729.5 L329.9,749.3 L320.1,769 L310.2,776.4 L295.4,769 L280.6,761.6 L263.3,751.7 L268.3,734.5 L268.3,724.6" fill="none" stroke="#000" stroke-width="1.8" stroke-linejoin="round"/>
<path d="M611.1,754.2 L591.4,751.7 L566.7,761.6 L532.2,773.9 L517.4,788.7 L507.5,813.4 L500.1,833.1 L485.3,852.9 L478.9,860.3 L485.3,872.6 L497.7,897.3 L507.5,921.9 L522.3,931.8 L542.1,944.1 L571.7,941.7 L591.4,931.8 L593.9,951.5 L591.4,978.7 L621,978.7 L650.6,981.1 L670.3,971.3 L695,961.4 L719.7,949.1 L744.3,941.7 L764.1,936.7 L793.7,919.5 L818.3,902.2 L838.1,882.5 L852.9,887.4 L872.6,902.2 L892.3,904.7" fill="none" stroke="#000" stroke-width="1.8" stroke-linejoin="round"/>
<path d="M485.3,852.9 L571.7,867.7 L621,882.5 L670.3,907.1 L719.7,931.8 L744.3,941.7" fill="none" stroke="#000" stroke-width="1.8" stroke-linejoin="round"/>
<path d="M892.3,904.7 L998.4,904.7 L998.4,840.5 L1010.7,813.4 L1027,783.8" fill="none" stroke="#000" stroke-width="1.8" stroke-linejoin="round"/>
<path d="M766.5,936.7 L769,976.2 L773.9,1005.8 L783.8,1027" fill="none" stroke="#000" stroke-width="1.8" stroke-linejoin="round"/>
<path d="M892.3,904.7 L897.3,976.2 L946.6,986.1 L949.1,1027" fill="none" stroke="#000" stroke-width="1.8" stroke-linejoin="round"/>
<path d="M625.9,978.7 L650.6,1027" fill="none" stroke="#000" stroke-width="1.8" stroke-linejoin="round"/>
<path d="M1039.5,408.9 L1037,433.5 L1019.7,448.3 L1012.3,473 L1029.6,497.7 L1039.5,502.6 L1049.3,522.3 L1059.2,547" fill="none" stroke="#000" stroke-width="1.8" stroke-linejoin="round"/>
<path d="M1133.2,428.6 L1130.7,453.3 L1138.1,473 L1145.5,492.7 L1138.1,517.4 L1133.2,537.1" fill="none" stroke="#000" stroke-width="1.8" stroke-linejoin="round"/>
<path d="M1229.4,468.1 L1217.1,482.9 L1202.3,502.6 L1197.3,522.3 L1182.5,537.1 L1162.8,532.2 L1148,537.1 L1133.2,537.1 L1118.4,532.2 L1113.5,527.3 L1083.9,529.7 L1076.5,544.5 L1059.2,547 L1029.6,551.9 L1000,556.9" fill="none" stroke="#000" stroke-width="1.8" stroke-linejoin="round"/>
<path d="M1118.4,532.2 L1123.3,551.9 L1148,561.8 L1162.8,571.7 L1172.7,591.4 L1182.5,621 L1197.3,635.8 L1207.2,650.6 L1217.1,648.1 L1226.9,630.9 L1236.8,611.1" fill="none" stroke="#000" stroke-width="1.8" stroke-linejoin="round"/>
<path d="M1000,645.7 L1019.7,655.5 L1049.3,670.3 L1074,680.2 L1049.3,744.3 L1029.6,793.7 L1000,843" fill="none" stroke="#000" stroke-width="1.8" stroke-linejoin="round"/>
<path d="M1409.5,653.1 L1404.5,695 L1394.7,719.7 L1384.8,744.3 L1365.1,769 L1345.3,778.9 L1325.6,788.7 L1340.4,793.7 L1340.4,818.3 L1330.5,828.2 L1305.9,847.9 L1300.9,877.5 L1296,902.2 L1281.2,931.8 L1271.3,956.5 L1261.5,991 L1256.5,1027" fill="none" stroke="#000" stroke-width="1.8" stroke-linejoin="round"/>
<path d="M1325.6,788.7 L1360.1,793.7 L1365.1,813.4 L1365.1,857.8 L1360.1,867.7 L1374.9,877.5 L1394.7,882.5 L1394.7,917 L1389.7,936.7 L1399.6,956.5 L1419.3,966.3 L1424.3,956.5" fill="none" stroke="#000" stroke-width="1.8" stroke-linejoin="round"/>
<path d="M1557.5,709.8 L1542.7,729.5 L1527.9,744.3 L1518,769 L1513.1,798.6 L1518,818.3 L1513.1,833.1 L1473.6,843 L1444,857.8 L1434.1,867.7 L1424.3,897.3 L1419.3,936.7 L1424.3,956.5" fill="none" stroke="#000" stroke-width="1.8" stroke-linejoin="round"/>
<path d="M1572.3,712.3 L1572.3,734.5 L1577.2,759.1 L1587.1,798.6 L1592,828.2 L1601.9,838.1 L1596.9,862.7" fill="none" stroke="#000" stroke-width="1.8" stroke-linejoin="round"/>
<path d="M1424.3,956.5 L1444,971.3 L1453.9,976.2 L1478.5,966.3 L1493.3,936.7 L1518,926.9 L1542.7,917 L1567.3,907.1 L1582.1,897.3 L1596.9,862.7" fill="none" stroke="#000" stroke-width="1.8" stroke-linejoin="round"/>
<path d="M1700.5,773.9 L1685.7,798.6 L1675.9,813.4 L1666,823.3 L1661.1,857.8 L1631.5,857.8 L1596.9,862.7" fill="none" stroke="#000" stroke-width="1.8" stroke-linejoin="round"/>
<path d="M1661.1,828.2 L1690.7,823.3 L1700.5,813.4 L1710.4,818.3 L1705.5,838.1 L1720.3,833.1 L1740,828.2 L1769.6,828.2" fill="none" stroke="#000" stroke-width="1.8" stroke-linejoin="round"/>
<path d="M1661.1,857.8 L1685.7,867.7 L1705.5,857.8 L1715.3,862.7 L1710.4,887.4 L1735.1,877.5 L1759.7,872.6 L1779.5,872.6" fill="none" stroke="#000" stroke-width="1.8" stroke-linejoin="round"/>
<path d="M1596.9,862.7 L1592,887.4 L1611.7,907.1 L1636.4,897.3 L1656.1,907.1 L1680.8,921.9 L1700.5,917 L1720.3,921.9 L1749.9,912.1 L1774.5,907.1" fill="none" stroke="#000" stroke-width="1.8" stroke-linejoin="round"/>
<path d="M1680.8,921.9 L1685.7,946.6 L1705.5,956.5 L1730.1,946.6 L1744.9,941.7" fill="none" stroke="#000" stroke-width="1.8" stroke-linejoin="round"/>
<path d="M1685.7,946.6 L1675.9,971.3 L1685.7,991 L1700.5,995.9 L1710.4,976.2" fill="none" stroke="#000" stroke-width="1.8" stroke-linejoin="round"/>
<path d="M1424.3,956.5 L1409.5,976.2 L1399.6,1005.8 L1409.5,1027" fill="none" stroke="#000" stroke-width="1.8" stroke-linejoin="round"/>
<path d="M1000,857.8 L1009.9,862.7 L1024.7,887.4 L1039.5,917 L1054.3,924.4 L1273.8,941.7" fill="none" stroke="#000" stroke-width="1.8" stroke-linejoin="round"/>
<path d="M646.7,1000 L656.5,1029.6 L646.7,1064.1 L644.2,1088.8 L636.8,1103.6 L631.9,1123.3 L636.8,1143.1 L646.7,1157.9 L641.7,1167.7 L626.9,1182.5 L624.5,1197.3 L612.1,1207.2 L602.3,1222" fill="none" stroke="#000" stroke-width="1.8" stroke-linejoin="round"/>
<path d="M624.5,1197.3 L641.7,1217.1 L651.6,1251.6 L661.5,1256.5 L656.5,1286.1 L666.4,1315.7 L676.3,1345.3 L683.7,1374.9 L705.9,1382.3" fill="none" stroke="#000" stroke-width="1.8" stroke-linejoin="round"/>
<path d="M705.9,1382.3 L715.7,1360.1 L740.4,1350.3 L745.3,1345.3 L755.2,1352.7 L789.7,1352.7 L799.6,1365.1 L802.1,1377.4 L814.4,1350.3 L853.9,1350.3 L861.3,1357.7" fill="none" stroke="#000" stroke-width="1.8" stroke-linejoin="round"/>
<path d="M861.3,1355.2 L873.6,1296 L888.4,1271.3 L942.7,1259 L977.2,1259 L1016.7,1281.2" fill="none" stroke="#000" stroke-width="1.8" stroke-linejoin="round"/>
<path d="M858.8,1352.7 L878.5,1374.9 L893.3,1389.7 L913.1,1404.5 L942.7,1419.3 L967.3,1429.2 L992,1444 L1011.7,1458.8 L1006.8,1488.4 L996.9,1518 L1041.3,1527.9 L1070.9,1530.3 L1090.7,1522.9 L1115.3,1513.1 L1130.1,1488.4 L1125.2,1473.6 L1135.1,1463.7 L1140,1419.3" fill="none" stroke="#000" stroke-width="1.8" stroke-linejoin="round"/>
<path d="M1016.7,1281.2 L1011.7,1296 L1016.7,1325.6 L1014.2,1350.3 L1041.3,1355.2 L1066,1355.2 L1080.8,1360.1 L1090.7,1374.9 L1100.5,1414.4 L1135.1,1416.9 L1140,1419.3" fill="none" stroke="#000" stroke-width="1.8" stroke-linejoin="round"/>
<path d="M1130.1,1473.6 L1149.9,1468.7" fill="none" stroke="#000" stroke-width="1.8" stroke-linejoin="round"/>
<path d="M1026.5,1626.5 L1016.7,1641.3 L1011.7,1666 L1006.8,1690.7 L1001.9,1720.3 L999.4,1740 L1011.7,1754.8" fill="none" stroke="#000" stroke-width="1.8" stroke-linejoin="round"/>
<path d="M770,1000 L779.9,1019.7 L809.5,1024.7 L844,1044.4 L883.5,1064.1 L922.9,1064.1 L927.9,1074 L932.8,1115.9 L940.2,1156.9 L1001.9,1157.9 L999.4,1177.6 L1016.7,1197.3 L1026.5,1207.2 L1031.5,1222 L1024.1,1256.5 L1016.7,1278.7" fill="none" stroke="#000" stroke-width="1.8" stroke-linejoin="round"/>
<path d="M942.7,1000 L947.6,1024.7 L940.2,1044.4 L927.9,1064.1" fill="none" stroke="#000" stroke-width="1.8" stroke-linejoin="round"/>
<path d="M1026.5,1207.2 L1056.1,1197.3 L1080.8,1187.5 L1110.4,1197.3 L1130.1,1197.3 L1154.8,1192.4 L1154.8,1212.1 L1179.5,1217.1 L1209.1,1231.9 L1250,1256.5" fill="none" stroke="#000" stroke-width="1.8" stroke-linejoin="round"/>
<path d="M705.9,1382.3 L708.3,1394.7 L698.5,1419.3 L676.3,1429.2 L661.5,1434.1 L659,1453.9 L661.5,1493.3 L666.4,1513.1 L646.7,1542.7 L631.9,1567.3 L617.1,1592 L612.1,1621.6 L607.2,1641.3 L597.3,1661.1 L602.3,1680.8 L607.2,1700.5" fill="none" stroke="#000" stroke-width="1.8" stroke-linejoin="round"/>
<path d="M640.3,1000 L650.3,1020 L645.3,1050 L640.3,1080 L635.3,1100.1 L640.3,1120.1 L630.3,1135.1 L640.3,1150.1 L635.3,1165.1 L625.3,1185.1 L620.3,1200.1" fill="none" stroke="#000" stroke-width="1.8" stroke-linejoin="round"/>
<path d="M605.3,1700 L610.3,1740 L600.2,1775 L595.2,1805.1 L580.2,1830.1 L575.2,1850.1 L570.2,1890.1 L565.2,1910.1 L555.2,1925.1 L552.7,1975.2 L545.2,2025.2 L542.7,2050.2 L552.7,2060.2 L555.2,2095.2 L545.2,2110.2 L550.2,2115.2 L570.2,2100.2 L565.2,2120.2 L555.2,2130.2 L560.2,2150.3 L555.2,2175.3 L550.2,2200.3 L540.2,2220.3 L530.2,2240.3 L520.2,2250.3 L500.2,2265.3 L495.2,2285.3 L505.2,2305.4 L530.2,2305.4 L540.2,2330.4 L535.2,2350.4 L665.3,2365.4" fill="none" stroke="#000" stroke-width="1.8" stroke-linejoin="round"/>
<path d="M657.8,2372.9 L657.8,2450.4" fill="none" stroke="#000" stroke-width="1.8" stroke-linejoin="round"/>
<path d="M1260.2,1000 L1265.2,1035 L1255.1,1075 L1240.1,1115.1 L1210.1,1130.1 L1190.1,1165.1 L1175.1,1190.1 L1180.1,1215.1 L1190.1,1235.1 L1220.1,1245.1 L1250.1,1260.2 L1250.1,1280.2" fill="none" stroke="#000" stroke-width="1.8" stroke-linejoin="round"/>
<path d="M1270.2,1030 L1300.2,1050 L1325.2,1045 L1350.2,1055 L1380.2,1050 L1400.2,1045 L1410.2,1030 L1405.2,1000" fill="none" stroke="#000" stroke-width="1.8" stroke-linejoin="round"/>
<path d="M1405.2,1000 L1415.2,1050 L1415.2,1100.1 L1425.2,1115.1 L1435.3,1110.1 L1470.3,1092.6 L1487.8,1090.1 L1495.3,1105.1 L1525.3,1110.1 L1550.3,1120.1 L1570.3,1135.1 L1600.3,1145.1 L1620.4,1150.1 L1600.3,1175.1 L1600.3,1195.1 L1610.4,1210.1 L1625.4,1220.1" fill="none" stroke="#000" stroke-width="1.8" stroke-linejoin="round"/>
<path d="M1367.7,1120.1 L1370.2,1150.1 L1375.2,1175.1 L1370.2,1200.1 L1370.2,1215.1 L1350.2,1225.1 L1320.2,1230.1 L1300.2,1235.1 L1280.2,1250.1 L1250.1,1260.2" fill="none" stroke="#000" stroke-width="1.8" stroke-linejoin="round"/>
<path d="M1250.1,1280.2 L1260.2,1275.2 L1300.2,1280.2 L1320.2,1290.2 L1350.2,1285.2 L1370.2,1290.2 L1380.2,1320.2 L1395.2,1330.2 L1400.2,1360.2 L1405.2,1380.2" fill="none" stroke="#000" stroke-width="1.8" stroke-linejoin="round"/>
<path d="M1250.1,1275.2 L1235.1,1300.2 L1220.1,1320.2 L1210.1,1340.2 L1190.1,1360.2 L1175.1,1370.2" fill="none" stroke="#000" stroke-width="1.8" stroke-linejoin="round"/>
<path d="M1180.1,1370.2 L1225.1,1370.2 L1250.1,1375.2 L1285.2,1380.2 L1295.2,1400.2 L1305.2,1425.2 L1310.2,1440.3" fill="none" stroke="#000" stroke-width="1.8" stroke-linejoin="round"/>
<path d="M1585.3,1320.2 L1580.3,1290.2 L1590.3,1260.2 L1580.3,1235.1 L1595.3,1215.1 L1625.4,1220.1" fill="none" stroke="#000" stroke-width="1.8" stroke-linejoin="round"/>
<path d="M1400.2,1365.2 L1425.2,1370.2 L1450.3,1360.2 L1475.3,1355.2 L1500.3,1350.2 L1530.3,1345.2 L1555.3,1315.2 L1555.3,1295.2" fill="none" stroke="#000" stroke-width="1.8" stroke-linejoin="round"/>
<path d="M1135.1,1415.2 L1130.1,1470.3 L1145.1,1467.8 L1155.1,1485.3 L1160.1,1500.3 L1160.1,1515.3" fill="none" stroke="#000" stroke-width="1.8" stroke-linejoin="round"/>
<path d="M1160.1,1490.3 L1190.1,1495.3 L1235.1,1500.3 L1240.1,1492.8 L1270.2,1485.3 L1300.2,1482.8 L1325.2,1480.3" fill="none" stroke="#000" stroke-width="1.8" stroke-linejoin="round"/>
<path d="M1160.1,1515.3 L1155.1,1520.3 L1125.1,1535.3 L1100.1,1555.3 L1075,1590.3 L1050,1610.4 L1030,1625.4 L1020,1635.4" fill="none" stroke="#000" stroke-width="1.8" stroke-linejoin="round"/>
<path d="M1155.1,1520.3 L1175.1,1520.3 L1200.1,1522.8 L1225.1,1530.3 L1250.1,1545.3 L1270.2,1565.3 L1290.2,1570.3 L1285.2,1590.3 L1290.2,1595.3" fill="none" stroke="#000" stroke-width="1.8" stroke-linejoin="round"/>
<path d="M1020,1635.4 L1045,1620.4 L1060,1625.4 L1080,1640.4 L1090.1,1650.4 L1110.1,1655.4 L1130.1,1675.4 L1150.1,1690.4 L1165.1,1710.4 L1180.1,1705.4 L1190.1,1690.4" fill="none" stroke="#000" stroke-width="1.8" stroke-linejoin="round"/>
<path d="M178.2,281.1 L185,286.1 L192.5,292.3 L198.7,297.3 L207.4,302.3 L216.2,307.3 L224.9,316.8 L234.9,317.3 L244.9,314.3 L254.9,308.5 L264.8,304.8 L274.8,302.3 L283.6,296.8 L292.3,289.8 L302.3,291.8 L312.3,294.8 L324.7,296.8 L337.2,299.8 L349.7,307.3 L359.7,317.3 L367.2,324.7 L373.4,331 L380.9,339.7 L383.4,346 L382.1,334.7 L380.9,324.2 L389.6,319.8 L399.6,312.3 L407.1,302.3 L419.6,294.8 L422.6,279.8 L427.1,259.9 L434.5,252.4 L442,246.9 L449.5,240.4 L459.5,242.9 L469.5,234.9 L484.5,233.7 L494.4,233.7 L504.4,228.7 L514.4,222.9 L524.4,219.4 L536.9,212.4 L539.4,203.7 L549.3,196.2 L559.3,195.5 L569.3,200 L574.8,208.7 L569.3,214.9 L560.6,222.4 L564.3,231.2 L574.3,236.2 L589.3,233.7 L600,227.4 L602,213.7 L610,204.4 L617.5,209.9 L620.5,223.7 L634.9,226.4 L649.9,229.9 L662.4,236.1 L668.6,246.1 L673.6,257.8 L684.9,261.8 L697.3,262.8 L717.3,264.8 L739.8,264.8 L754.7,271.1 L774.7,275.3 L787.2,272.8 L799.7,266.1 L812.1,257.8 L824.6,256.1 L837.1,253.6 L849.6,252.4 L864.5,253.1 L884.5,253.6 L874.5,257.3 L862,260.3 L859.5,268.6 L867,276.1 L877,277.8 L887,279.8 L899.5,285.3 L912,292.3 L920.7,299.8 L924.4,313.5 L929.4,322.7 L941.9,327.2 L954.4,332.7 L969.4,342.2 L984.3,352.2 L994.3,362.2 L1011.8,369.7 L1030,378.4 L1045,411.6 L1065,414.1 L1085,415.1 L1100.1,417.6 L1125.1,420.1 L1150.1,420.1 L1175.1,427.6 L1200.1,435.2 L1220.1,455.2 L1230.1,465.2 L1245.1,480.2 L1250.1,510.2 L1260.2,535.2 L1272.7,545.2 L1285.2,555.2 L1287.7,570.2 L1282.7,590.2 L1290.2,600.2 L1305.2,610.3 L1330.2,620.3 L1350.2,630.3 L1370.2,632.8 L1390.2,640.3 L1410.2,647.8 L1430.2,655.3 L1450.3,657.8 L1460.3,665.3 L1480.3,680.3 L1500,689.7 L1512.5,693.9 L1527.2,699.1 L1541.8,701.2 L1555.4,703.3 L1562.7,707.5 L1573.1,709.5 L1587.8,706.8 L1600.3,705.4 L1617,706.4 L1629.5,714.8 L1646.3,723.1 L1663,737.8 L1677.6,752.4 L1688,758.6 L1698.5,767 L1708.9,775.4 L1721.5,779.5 L1736.1,781.6 L1750.7,781.6 L1763.3,785.8 L1775.8,804.6 L1782.1,821.3 L1784.6,838 L1785.2,858.9 L1784.2,879.8 L1782.1,900.7 L1777.9,913.3 L1769.5,930 L1757,946.7 L1746.5,959.2 L1734,973.9 L1721.5,988.5 L1708.9,1003.1 L1700.6,1017.7 L1694.3,1024 L1679.7,1038.6 L1665.1,1053.3 L1654.6,1065.8 L1652.1,1076.2 L1650.4,1088.8 L1650.4,1115.1 L1652.9,1130.1 L1650.4,1150.1 L1645.4,1175.1 L1642.9,1200.1 L1635.4,1215.1 L1627.9,1230.1 L1625.4,1250.1 L1626.4,1270.2 L1612.9,1300.2 L1590.3,1310.2 L1585.3,1325.2 L1582.8,1345.2 L1570.3,1355.2 L1555.3,1370.2 L1545.3,1380.2 L1525.3,1385.2 L1500.3,1387.7 L1475.3,1390.2 L1450.3,1397.7 L1440.3,1410.2 L1425.2,1415.2 L1410.2,1420.2 L1395.2,1425.2 L1375.2,1435.3 L1360.2,1445.3 L1345.2,1455.3 L1335.2,1470.3 L1330.2,1485.3 L1327.7,1500.3 L1325.2,1520.3 L1327.7,1540.3 L1320.2,1560.3 L1305.2,1575.3 L1290.2,1590.3 L1280.2,1605.4 L1270.2,1620.4 L1260.2,1635.4 L1245.1,1650.4 L1230.1,1665.4 L1210,1689.7 L1201,1702.2 L1192.7,1716.9 L1180.1,1729.4 L1167.6,1739.8 L1159.2,1752.4 L1148.8,1762.8 L1138.3,1771.2 L1127.9,1777.5 L1117.4,1782.7 L1109.1,1780.6 L1100.7,1779.5 L1079.8,1777.5 L1058.9,1775.4 L1046.4,1769.1 L1036,1766 L1031.8,1785.8 L1038,1792.1 L1042.2,1800.4 L1036,1808.8 L1034.9,1817.2 L1040.1,1825.5 L1050.6,1829.7 L1056.8,1829.7 L1058.9,1844.3 L1052.7,1854.8 L1046.4,1863.1 L1038,1871.5 L1029.7,1879.8 L1028.6,1888.2 L1017.2,1894.5 L1004.6,1900.7 L992.1,1904.9 L975.4,1909.1 L954.5,1913.3 L933.6,1916.4 L912.7,1917.4 L891.8,1918.5 L877.2,1916.4 L867.8,1911.2 L866.7,1919.5 L870.9,1927.9 L875.1,1934.2 L871.9,1944.6 L867.8,1953 L863.6,1961.3 L866.7,1971.8 L868.8,1979.1 L862.5,1982.2 L850,1986.4 L820.4,1987.7 L790.4,1987.7 L777.9,1980.2 L772.8,1995.2 L780.4,2020.2 L795.4,2030.2 L820.4,2025.2 L825.4,2045.2 L805.4,2050.2 L790.4,2050.2 L780.4,2060.2 L770.3,2075.2 L767.8,2095.2 L760.3,2115.2 L745.3,2120.2 L720.3,2125.2 L702.8,2135.3 L692.8,2155.3 L700.3,2175.3 L730.3,2187.8 L752.8,2195.3 L752.8,2215.3 L740.3,2230.3 L720.3,2240.3 L700.3,2255.3 L687.8,2270.3 L675.3,2285.3 L660.3,2295.3 L645.3,2305.4 L635.3,2320.4 L640.3,2335.4 L645.3,2350.4 L665.3,2365.4 L650.3,2368.9 L630.3,2368.9 L610.3,2375.4 L595.2,2381.4 L587.7,2400.4 L600.2,2397.9 L620.3,2392.9 L645.3,2380.4 L662.8,2385.4 L670.3,2390.4 L685.3,2410.4 L710.3,2425.4 L735.3,2435.4 L760.3,2440.4 L772.8,2442.9 L767.8,2450.4 L745.3,2455.4 L720.3,2460.4 L695.3,2465.4 L680.3,2472.9 L670.3,2478 L645.3,2470.4 L620.3,2465.4 L595.2,2455.4 L570.2,2450.4 L545.2,2440.4 L520.2,2430.4 L495.2,2415.4 L475.2,2400.4 L455.2,2385.4 L440.2,2360.4 L432.7,2340.4 L430.2,2315.4 L425.1,2285.3 L422.6,2260.3 L420.1,2230.3 L425.1,2210.3 L430.2,2200.3 L422.6,2180.3 L425.1,2170.3 L438.2,2160.3 L440.2,2130.2 L445.2,2100.2 L452.2,2085.2 L470.2,2078.2 L465.2,2066.2 L467.2,2045.2 L472.2,2020.2 L478.2,2010.2 L480.2,1990.2 L482.7,1970.2 L487.7,1950.1 L495.2,1935.1 L500.2,1910.1 L495.2,1890.1 L490.2,1865.1 L495.2,1855.1 L505.2,1845.1 L512.7,1830.1 L517.7,1815.1 L525.2,1800.1 L530.2,1785 L540.2,1765 L545.2,1765.4 L555.2,1745.4 L555.2,1720.4 L560.2,1690.4 L557.7,1665.4 L557.7,1630.4 L565.2,1610.4 L562.7,1585.3 L567.7,1575.3 L575.2,1555.3 L580.2,1530.3 L585.2,1505.3 L589.2,1480.3 L594.2,1450.3 L595.2,1425.2 L590.2,1400.2 L595.2,1395.2 L600.2,1370.2 L605.3,1340.2 L605.3,1310.2 L602.8,1280.2 L600.2,1250.1 L599.2,1225.1 L585.2,1215.1 L570.2,1200.1 L555.2,1185.1 L530.2,1170.1 L505.2,1155.1 L480.2,1145.1 L455.2,1132.6 L435.2,1120.1 L420.1,1105.1 L410.1,1090.1 L400.1,1075 L402.6,1060 L395.1,1040 L385.1,1020 L379.3,1027.5 L365.9,1011.9 L359.2,996.4 L354.8,987.5 L348.1,971.9 L339.2,954.1 L332.5,936.3 L325.8,920.7 L321.4,911.8 L312.5,891.7 L299.1,873.9 L290.2,858.3 L281.3,847.2 L270.2,836.1 L259.1,827.2 L243.5,820.5 L237.9,813.8 L241.2,807.1 L245.7,800.4 L239,793.8 L236.8,780.4 L232.3,769.3 L233.5,755.9 L245.7,744.8 L259.1,731.4 L268,724.7 L279.1,718.1 L276.9,713.6 L269.1,711.4 L269.1,702.5 L254.6,693.6 L243.5,685.8 L250.1,675.8 L247.9,660.2 L246.8,646.8 L252.4,643.5 L259.1,635.7 L261.3,624.6 L268,615.7 L274.6,604.5 L273.5,595.6 L274.6,584.5 L287.3,578.1 L299.8,575.6 L308.5,570.6 L313.5,564.3 L308.5,559.3 L313.5,554.3 L321,549.4 L321,534.4 L327.2,528.1 L339.7,525.6 L349.7,521.9 L352.2,511.9 L359.7,501.9 L367.2,492 L373.4,482 L367.2,477 L363.4,470.7 L367.2,462 L367.2,452 L364.7,439.5 L363.4,427.1 L362.2,424.6 L367.2,419.6 L368.4,409.6 L365.9,399.6 L364.7,389.6 L359.7,382.1 L354.7,374.7 L349.7,367.2 L344.7,359.7 L337.2,354.7 L332.2,347.2 L329.7,339.7 L324.7,329.7 L317.2,322.3 L309.8,314.8 L299.8,312.3 L289.8,316 L283.6,323.5 L277.3,329.7 L267.3,333.5 L262.3,339.7 L266.1,349.7 L274.8,355.9 L277.3,360.9 L271.1,365.9 L262.3,370.2 L249.9,370.9 L246.1,365.9 L244.9,357.2 L239.9,352.2 L232.4,354.7 L223.7,352.2 L218.7,344.7 L209.9,339.7 L199.9,337.7 L187.5,336 L177.5,339.7 Z M889.5,256.1 L899.5,252.4 L915,250.4 L913.2,264.8 L909.5,276.1 L894.5,276.1 L892,267.3 Z M544.3,279.8 L550.6,267.3 L559.3,262.4 L563.1,252.4 L566.8,272.3 L574.3,279.8 L577.3,292.3 L573,303.5 L563.1,308.5 L551.8,307.3 L545.6,297.3 L544.3,287.3 Z" fill="none" stroke="#000" stroke-width="2" stroke-linejoin="round"/>
<path d="M922.7,2332.7 L935.7,2329.9 L954.3,2329 L971,2332.7 L963.6,2342 L952.4,2349.4 L939.4,2355 L928.3,2360.6 L917.1,2358.7 L907.9,2350.4 L919,2342 Z M973.8,2334.6 L982.1,2329.9 L1000.7,2330.9 L1014.6,2332.7 L1022,2339.2 L1021.1,2345.7 L1010,2349.4 L991.4,2355 L972.9,2364.3 L958.9,2364.3 L956.1,2355 L963.6,2347.6 Z" fill="#b1d5e7" stroke="#000" stroke-width="2"/>
<ellipse cx="803" cy="2447.5" rx="15" ry="3.5" fill="#9bc9e0" stroke="#000" stroke-width="1.8"/>
<ellipse cx="697" cy="2478" rx="9" ry="4" fill="#8ac0db" stroke="#000" stroke-width="1.8"/>
<ellipse cx="1546.5" cy="2406" rx="3.5" ry="2.2" fill="none" stroke="#000" stroke-width="1.8"/><ellipse cx="1552" cy="2409" rx="3" ry="2" fill="none" stroke="#000" stroke-width="1.8"/>
<ellipse cx="808" cy="243.7" rx="11" ry="6" fill="#c2383a"/>
<ellipse cx="643.7" cy="205" rx="6.5" ry="4" fill="#ba2832"/>
<ellipse cx="666.7" cy="206" rx="4.5" ry="4" fill="#ba2832"/>
<ellipse cx="611" cy="193.7" rx="4" ry="3" fill="#c2383a"/>
<ellipse cx="922.5" cy="238.4" rx="6" ry="4" fill="#c2383a"/>
<ellipse cx="768.5" cy="246.8" rx="4" ry="3" fill="#a21328"/>
<ellipse cx="888" cy="207.5" rx="3" ry="3" fill="#da6853"/>
<text x="723.4" y="270.0" font-size="44.5" text-anchor="middle" fill="#fff" stroke="#000" stroke-width="9" stroke-linejoin="round" paint-order="stroke">27</text>
<text x="1017.5" y="395.8" font-size="44.5" text-anchor="middle" fill="#fff" stroke="#000" stroke-width="9" stroke-linejoin="round" paint-order="stroke">33</text>
<text x="1121.3" y="426.6" font-size="44.5" text-anchor="middle" fill="#fff" stroke="#000" stroke-width="9" stroke-linejoin="round" paint-order="stroke">35</text>
<text x="1209.6" y="456.6" font-size="44.5" text-anchor="middle" fill="#fff" stroke="#000" stroke-width="9" stroke-linejoin="round" paint-order="stroke">33</text>
<text x="481.8" y="468.9" font-size="44.5" text-anchor="middle" fill="#fff" stroke="#000" stroke-width="9" stroke-linejoin="round" paint-order="stroke">22</text>
<text x="933" y="527.8" font-size="44.5" text-anchor="middle" fill="#fff" stroke="#000" stroke-width="9" stroke-linejoin="round" paint-order="stroke">37</text>
<text x="337.8" y="632.6" font-size="44.5" text-anchor="middle" fill="#fff" stroke="#000" stroke-width="9" stroke-linejoin="round" paint-order="stroke">24</text>
<text x="1255.3" y="620.7" font-size="44.5" text-anchor="middle" fill="#fff" stroke="#000" stroke-width="9" stroke-linejoin="round" paint-order="stroke">33</text>
<text x="1341" y="672.3" font-size="44.5" text-anchor="middle" fill="#fff" stroke="#000" stroke-width="9" stroke-linejoin="round" paint-order="stroke">32</text>
<text x="1482" y="707.1" font-size="44.5" text-anchor="middle" fill="#fff" stroke="#000" stroke-width="9" stroke-linejoin="round" paint-order="stroke">33</text>
<text x="955" y="725.8" font-size="44.5" text-anchor="middle" fill="#fff" stroke="#000" stroke-width="9" stroke-linejoin="round" paint-order="stroke">35</text>
<text x="1674.6" y="751.3" font-size="44.5" text-anchor="middle" fill="#fff" stroke="#000" stroke-width="9" stroke-linejoin="round" paint-order="stroke">34</text>
<text x="1532" y="793.3" font-size="44.5" text-anchor="middle" fill="#fff" stroke="#000" stroke-width="9" stroke-linejoin="round" paint-order="stroke">38</text>
<text x="1786.4" y="818.1" font-size="44.5" text-anchor="middle" fill="#fff" stroke="#000" stroke-width="9" stroke-linejoin="round" paint-order="stroke">30</text>
<text x="1798.8" y="860.0" font-size="44.5" text-anchor="middle" fill="#fff" stroke="#000" stroke-width="9" stroke-linejoin="round" paint-order="stroke">30</text>
<text x="1797" y="894.3" font-size="44.5" text-anchor="middle" fill="#fff" stroke="#000" stroke-width="9" stroke-linejoin="round" paint-order="stroke">30</text>
<text x="824.5" y="916.3" font-size="44.5" text-anchor="middle" fill="#fff" stroke="#000" stroke-width="9" stroke-linejoin="round" paint-order="stroke">34</text>
<text x="694" y="955.8" font-size="44.5" text-anchor="middle" fill="#fff" stroke="#000" stroke-width="9" stroke-linejoin="round" paint-order="stroke">34</text>
<text x="1345.4" y="964.3" font-size="44.5" text-anchor="middle" fill="#fff" stroke="#000" stroke-width="9" stroke-linejoin="round" paint-order="stroke">35</text>
<text x="1769.5" y="946.3" font-size="44.5" text-anchor="middle" fill="#fff" stroke="#000" stroke-width="9" stroke-linejoin="round" paint-order="stroke">30</text>
<text x="1724" y="988.3" font-size="44.5" text-anchor="middle" fill="#fff" stroke="#000" stroke-width="9" stroke-linejoin="round" paint-order="stroke">33</text>
<text x="383.7" y="1021.1" font-size="44.5" text-anchor="middle" fill="#fff" stroke="#000" stroke-width="9" stroke-linejoin="round" paint-order="stroke">21</text>
<text x="1676" y="1055.3" font-size="44.5" text-anchor="middle" fill="#fff" stroke="#000" stroke-width="9" stroke-linejoin="round" paint-order="stroke">30</text>
<text x="1087" y="1146.3" font-size="44.5" text-anchor="middle" fill="#fff" stroke="#000" stroke-width="9" stroke-linejoin="round" paint-order="stroke">35</text>
<text x="1361.4" y="1151.1" font-size="44.5" text-anchor="middle" fill="#fff" stroke="#000" stroke-width="9" stroke-linejoin="round" paint-order="stroke">33</text>
<text x="1315.7" y="1180.6" font-size="44.5" text-anchor="middle" fill="#fff" stroke="#000" stroke-width="9" stroke-linejoin="round" paint-order="stroke">37</text>
<text x="681.5" y="1174.1" font-size="44.5" text-anchor="middle" fill="#fff" stroke="#000" stroke-width="9" stroke-linejoin="round" paint-order="stroke">17</text>
<text x="1136.2" y="1307.1" font-size="44.5" text-anchor="middle" fill="#fff" stroke="#000" stroke-width="9" stroke-linejoin="round" paint-order="stroke">30</text>
<text x="1494.6" y="1289.3" font-size="44.5" text-anchor="middle" fill="#fff" stroke="#000" stroke-width="9" stroke-linejoin="round" paint-order="stroke">30</text>
<text x="1614.6" y="1302.9" font-size="44.5" text-anchor="middle" fill="#fff" stroke="#000" stroke-width="9" stroke-linejoin="round" paint-order="stroke">28</text>
<text x="1404" y="1411.8" font-size="44.5" text-anchor="middle" fill="#fff" stroke="#000" stroke-width="9" stroke-linejoin="round" paint-order="stroke">28</text>
<text x="1519" y="1389.3" font-size="44.5" text-anchor="middle" fill="#fff" stroke="#000" stroke-width="9" stroke-linejoin="round" paint-order="stroke">28</text>
<text x="1037.6" y="1467.9" font-size="44.5" text-anchor="middle" fill="#fff" stroke="#000" stroke-width="9" stroke-linejoin="round" paint-order="stroke">33</text>
<text x="1316" y="1474.3" font-size="44.5" text-anchor="middle" fill="#fff" stroke="#000" stroke-width="9" stroke-linejoin="round" paint-order="stroke">24</text>
<text x="1341" y="1546.8" font-size="44.5" text-anchor="middle" fill="#fff" stroke="#000" stroke-width="9" stroke-linejoin="round" paint-order="stroke">26</text>
<text x="1249.6" y="1628.7" font-size="44.5" text-anchor="middle" fill="#fff" stroke="#000" stroke-width="9" stroke-linejoin="round" paint-order="stroke">32</text>
<text x="602" y="1739.3" font-size="44.5" text-anchor="middle" fill="#fff" stroke="#000" stroke-width="9" stroke-linejoin="round" paint-order="stroke">13</text>
<text x="1008.8" y="1786.1" font-size="44.5" text-anchor="middle" fill="#fff" stroke="#000" stroke-width="9" stroke-linejoin="round" paint-order="stroke">22</text>
<text x="1084.5" y="1788.6" font-size="44.5" text-anchor="middle" fill="#fff" stroke="#000" stroke-width="9" stroke-linejoin="round" paint-order="stroke">17</text>
<path d="M1640.9,2355.4 C1642,2370 1650,2395 1678,2417 C1695,2426 1713,2425.1 1712.9,2425.1 C1735,2424 1755,2414 1770,2398 C1785,2380 1795,2358 1797.6,2331.1 L1805.7,2330.5 L1781.3,2306.1 L1755.8,2330.5 L1763.9,2331.1 C1762,2352 1755,2368 1745,2380 C1735,2392 1720,2400 1705,2402.5 C1690,2404 1672,2398 1660,2388 C1650,2378 1645,2368 1643.2,2361.3 Z" fill="#0072bb"/>
<path d="M1642,2367 C1639,2345 1642,2325 1655,2310 C1668,2297 1682,2292 1695.5,2292.8 C1712,2293 1725,2302 1731,2315 C1736,2326 1737,2335 1737.2,2340.4 L1744.8,2340.4 L1719.2,2363 L1697.2,2340.4 L1706.5,2340.4 C1706,2330 1700,2322 1690,2319 C1678,2316 1666,2321 1657,2330 C1648,2340 1644,2352 1643.2,2363.6" fill="none" stroke="#0072bb" stroke-width="1.3"/>
<circle cx="1718.9" cy="2382.7" r="16.8" fill="#f39200"/>
<text x="1651" y="2370.5" font-size="25" font-style="italic" font-weight="bold" fill="#1a1a1a" textLength="51" lengthAdjust="spacingAndGlyphs">INPE</text>
<rect x="177.5" y="177.5" width="1674" height="2310" fill="none" stroke="#000" stroke-width="3"/>
<text x="155.5" y="293.4" font-size="51" text-anchor="end" textLength="124" lengthAdjust="spacingAndGlyphs">10°N</text>
<text x="155" y="628.1" font-size="51" text-anchor="end" textLength="56" lengthAdjust="spacingAndGlyphs">0°</text>
<text x="155.5" y="962.8" font-size="51" text-anchor="end" textLength="124" lengthAdjust="spacingAndGlyphs">10°S</text>
<text x="155.5" y="1297.5" font-size="51" text-anchor="end" textLength="124" lengthAdjust="spacingAndGlyphs">20°S</text>
<text x="155.5" y="1632.2" font-size="51" text-anchor="end" textLength="124" lengthAdjust="spacingAndGlyphs">30°S</text>
<text x="155.5" y="1966.9" font-size="51" text-anchor="end" textLength="124" lengthAdjust="spacingAndGlyphs">40°S</text>
<text x="155.5" y="2301.6" font-size="51" text-anchor="end" textLength="124" lengthAdjust="spacingAndGlyphs">50°S</text>
<text x="277.9" y="2547" font-size="51" text-anchor="middle" textLength="136" lengthAdjust="spacingAndGlyphs">80°W</text>
<text x="612.6" y="2547" font-size="51" text-anchor="middle" textLength="136" lengthAdjust="spacingAndGlyphs">70°W</text>
<text x="947.3" y="2547" font-size="51" text-anchor="middle" textLength="136" lengthAdjust="spacingAndGlyphs">60°W</text>
<text x="1282.0" y="2547" font-size="51" text-anchor="middle" textLength="136" lengthAdjust="spacingAndGlyphs">50°W</text>
<text x="1616.7" y="2547" font-size="51" text-anchor="middle" textLength="136" lengthAdjust="spacingAndGlyphs">40°W</text>
<rect x="1893" y="2358.41" width="52" height="24.19" fill="#063264"/>
<rect x="1893" y="2334.81" width="52" height="24.19" fill="#09386d"/>
<rect x="1893" y="2311.22" width="52" height="24.19" fill="#0d3f76"/>
<rect x="1893" y="2287.63" width="52" height="24.19" fill="#10457e"/>
<rect x="1893" y="2264.03" width="52" height="24.19" fill="#124984"/>
<rect x="1893" y="2240.44" width="52" height="24.19" fill="#15508d"/>
<rect x="1893" y="2216.85" width="52" height="24.19" fill="#195696"/>
<rect x="1893" y="2193.25" width="52" height="24.19" fill="#1c5c9f"/>
<rect x="1893" y="2169.66" width="52" height="24.19" fill="#1f63a8"/>
<rect x="1893" y="2146.07" width="52" height="24.19" fill="#2369ad"/>
<rect x="1893" y="2122.47" width="52" height="24.19" fill="#276eb0"/>
<rect x="1893" y="2098.88" width="52" height="24.19" fill="#2b73b3"/>
<rect x="1893" y="2075.29" width="52" height="24.19" fill="#2e77b5"/>
<rect x="1893" y="2051.69" width="52" height="24.19" fill="#327cb7"/>
<rect x="1893" y="2028.10" width="52" height="24.19" fill="#3681ba"/>
<rect x="1893" y="2004.51" width="52" height="24.19" fill="#3a87bd"/>
<rect x="1893" y="1980.91" width="52" height="24.19" fill="#3e8cbf"/>
<rect x="1893" y="1957.32" width="52" height="24.19" fill="#4291c2"/>
<rect x="1893" y="1933.73" width="52" height="24.19" fill="#4997c5"/>
<rect x="1893" y="1910.13" width="52" height="24.19" fill="#529dc8"/>
<rect x="1893" y="1886.54" width="52" height="24.19" fill="#59a1ca"/>
<rect x="1893" y="1862.95" width="52" height="24.19" fill="#62a7ce"/>
<rect x="1893" y="1839.36" width="52" height="24.19" fill="#6bacd1"/>
<rect x="1893" y="1815.76" width="52" height="24.19" fill="#75b2d4"/>
<rect x="1893" y="1792.17" width="52" height="24.19" fill="#7eb8d7"/>
<rect x="1893" y="1768.58" width="52" height="24.19" fill="#87beda"/>
<rect x="1893" y="1744.98" width="52" height="24.19" fill="#90c4dd"/>
<rect x="1893" y="1721.39" width="52" height="24.19" fill="#98c8e0"/>
<rect x="1893" y="1697.80" width="52" height="24.19" fill="#9dcbe1"/>
<rect x="1893" y="1674.20" width="52" height="24.19" fill="#a5cee3"/>
<rect x="1893" y="1650.61" width="52" height="24.19" fill="#acd2e5"/>
<rect x="1893" y="1627.02" width="52" height="24.19" fill="#b3d6e8"/>
<rect x="1893" y="1603.42" width="52" height="24.19" fill="#bbdaea"/>
<rect x="1893" y="1579.83" width="52" height="24.19" fill="#c2ddec"/>
<rect x="1893" y="1556.24" width="52" height="24.19" fill="#cae1ee"/>
<rect x="1893" y="1532.64" width="52" height="24.19" fill="#d1e5f0"/>
<rect x="1893" y="1509.05" width="52" height="24.19" fill="#d4e6f1"/>
<rect x="1893" y="1485.46" width="52" height="24.19" fill="#d8e9f1"/>
<rect x="1893" y="1461.86" width="52" height="24.19" fill="#ddebf2"/>
<rect x="1893" y="1438.27" width="52" height="24.19" fill="#e1edf3"/>
<rect x="1893" y="1414.68" width="52" height="24.19" fill="#e6eff4"/>
<rect x="1893" y="1391.08" width="52" height="24.19" fill="#eaf1f5"/>
<rect x="1893" y="1367.49" width="52" height="24.19" fill="#eff3f5"/>
<rect x="1893" y="1343.90" width="52" height="24.19" fill="#f3f5f6"/>
<rect x="1893" y="1320.30" width="52" height="24.19" fill="#f7f6f6"/>
<rect x="1893" y="1296.71" width="52" height="24.19" fill="#f8f4f2"/>
<rect x="1893" y="1273.12" width="52" height="24.19" fill="#f8f1ed"/>
<rect x="1893" y="1249.52" width="52" height="24.19" fill="#f9eee7"/>
<rect x="1893" y="1225.93" width="52" height="24.19" fill="#faeae1"/>
<rect x="1893" y="1202.34" width="52" height="24.19" fill="#fae7dc"/>
<rect x="1893" y="1178.74" width="52" height="24.19" fill="#fbe4d6"/>
<rect x="1893" y="1155.15" width="52" height="24.19" fill="#fce0d0"/>
<rect x="1893" y="1131.56" width="52" height="24.19" fill="#fdddcb"/>
<rect x="1893" y="1107.96" width="52" height="24.19" fill="#fddbc7"/>
<rect x="1893" y="1084.37" width="52" height="24.19" fill="#fcd5bf"/>
<rect x="1893" y="1060.78" width="52" height="24.19" fill="#fbceb7"/>
<rect x="1893" y="1037.18" width="52" height="24.19" fill="#fac8af"/>
<rect x="1893" y="1013.59" width="52" height="24.19" fill="#f9c2a7"/>
<rect x="1893" y="990.00" width="52" height="24.19" fill="#f8bb9e"/>
<rect x="1893" y="966.40" width="52" height="24.19" fill="#f7b596"/>
<rect x="1893" y="942.81" width="52" height="24.19" fill="#f6af8e"/>
<rect x="1893" y="919.22" width="52" height="24.19" fill="#f5aa89"/>
<rect x="1893" y="895.62" width="52" height="24.19" fill="#f3a481"/>
<rect x="1893" y="872.03" width="52" height="24.19" fill="#f09c7b"/>
<rect x="1893" y="848.44" width="52" height="24.19" fill="#ec9374"/>
<rect x="1893" y="824.84" width="52" height="24.19" fill="#e98b6e"/>
<rect x="1893" y="801.25" width="52" height="24.19" fill="#e58368"/>
<rect x="1893" y="777.66" width="52" height="24.19" fill="#e27b62"/>
<rect x="1893" y="754.07" width="52" height="24.19" fill="#de735c"/>
<rect x="1893" y="730.47" width="52" height="24.19" fill="#dc6e57"/>
<rect x="1893" y="706.88" width="52" height="24.19" fill="#d86551"/>
<rect x="1893" y="683.29" width="52" height="24.19" fill="#d55d4c"/>
<rect x="1893" y="659.69" width="52" height="24.19" fill="#d05548"/>
<rect x="1893" y="636.10" width="52" height="24.19" fill="#cc4c44"/>
<rect x="1893" y="612.51" width="52" height="24.19" fill="#c84440"/>
<rect x="1893" y="588.91" width="52" height="24.19" fill="#c43b3c"/>
<rect x="1893" y="565.32" width="52" height="24.19" fill="#bf3338"/>
<rect x="1893" y="541.73" width="52" height="24.19" fill="#bd2d35"/>
<rect x="1893" y="518.13" width="52" height="24.19" fill="#b82531"/>
<rect x="1893" y="494.54" width="52" height="24.19" fill="#b41c2d"/>
<rect x="1893" y="470.95" width="52" height="24.19" fill="#ae172a"/>
<rect x="1893" y="447.35" width="52" height="24.19" fill="#a51429"/>
<rect x="1893" y="423.76" width="52" height="24.19" fill="#9c1127"/>
<rect x="1893" y="400.17" width="52" height="24.19" fill="#930e26"/>
<rect x="1893" y="376.57" width="52" height="24.19" fill="#8a0b25"/>
<rect x="1893" y="352.98" width="52" height="24.19" fill="#840924"/>
<rect x="1893" y="329.39" width="52" height="24.19" fill="#7c0722"/>
<rect x="1893" y="305.79" width="52" height="24.19" fill="#730421"/>
<rect x="1893" y="282.20" width="52" height="24.19" fill="#6a011f"/>
<path d="M1893,282.2 L1919,176 L1945,282.2 Z" fill="#67001f"/>
<path d="M1893,2382 L1919,2482 L1945,2382 Z" fill="#053061"/>
<path d="M1893,282.2 L1919,176 L1945,282.2 L1945,2382 L1919,2482 L1893,2382 Z" fill="none" stroke="#000" stroke-width="2.4"/>
<line x1="1945" y1="282.2" x2="1960" y2="282.2" stroke="#000" stroke-width="2.4"/>
<text x="1976" y="302.6" font-size="51" textLength="62" lengthAdjust="spacingAndGlyphs">40</text>
<line x1="1945" y1="495" x2="1960" y2="495" stroke="#000" stroke-width="2.4"/>
<text x="1976" y="515.4" font-size="51" textLength="62" lengthAdjust="spacingAndGlyphs">35</text>
<line x1="1945" y1="730" x2="1960" y2="730" stroke="#000" stroke-width="2.4"/>
<text x="1976" y="750.4" font-size="51" textLength="62" lengthAdjust="spacingAndGlyphs">30</text>
<line x1="1945" y1="966" x2="1960" y2="966" stroke="#000" stroke-width="2.4"/>
<text x="1976" y="986.4" font-size="51" textLength="62" lengthAdjust="spacingAndGlyphs">25</text>
<line x1="1945" y1="1202" x2="1960" y2="1202" stroke="#000" stroke-width="2.4"/>
<text x="1976" y="1222.4" font-size="51" textLength="62" lengthAdjust="spacingAndGlyphs">20</text>
<line x1="1945" y1="1438" x2="1960" y2="1438" stroke="#000" stroke-width="2.4"/>
<text x="1976" y="1458.4" font-size="51" textLength="62" lengthAdjust="spacingAndGlyphs">15</text>
<line x1="1945" y1="1674.5" x2="1960" y2="1674.5" stroke="#000" stroke-width="2.4"/>
<text x="1976" y="1694.9" font-size="51" textLength="62" lengthAdjust="spacingAndGlyphs">10</text>
<line x1="1945" y1="1910" x2="1960" y2="1910" stroke="#000" stroke-width="2.4"/>
<text x="1976" y="1930.4" font-size="51" textLength="31" lengthAdjust="spacingAndGlyphs">5</text>
<line x1="1945" y1="2146" x2="1960" y2="2146" stroke="#000" stroke-width="2.4"/>
<text x="1976" y="2166.4" font-size="51" textLength="31" lengthAdjust="spacingAndGlyphs">0</text>
<line x1="1945" y1="2382" x2="1960" y2="2382" stroke="#000" stroke-width="2.4"/>
<text x="1973" y="2402.4" font-size="51" textLength="51" lengthAdjust="spacingAndGlyphs">-5</text>
<text x="1846" y="172" font-size="52" textLength="91" lengthAdjust="spacingAndGlyphs">(°C)</text>
</svg></body></html>
